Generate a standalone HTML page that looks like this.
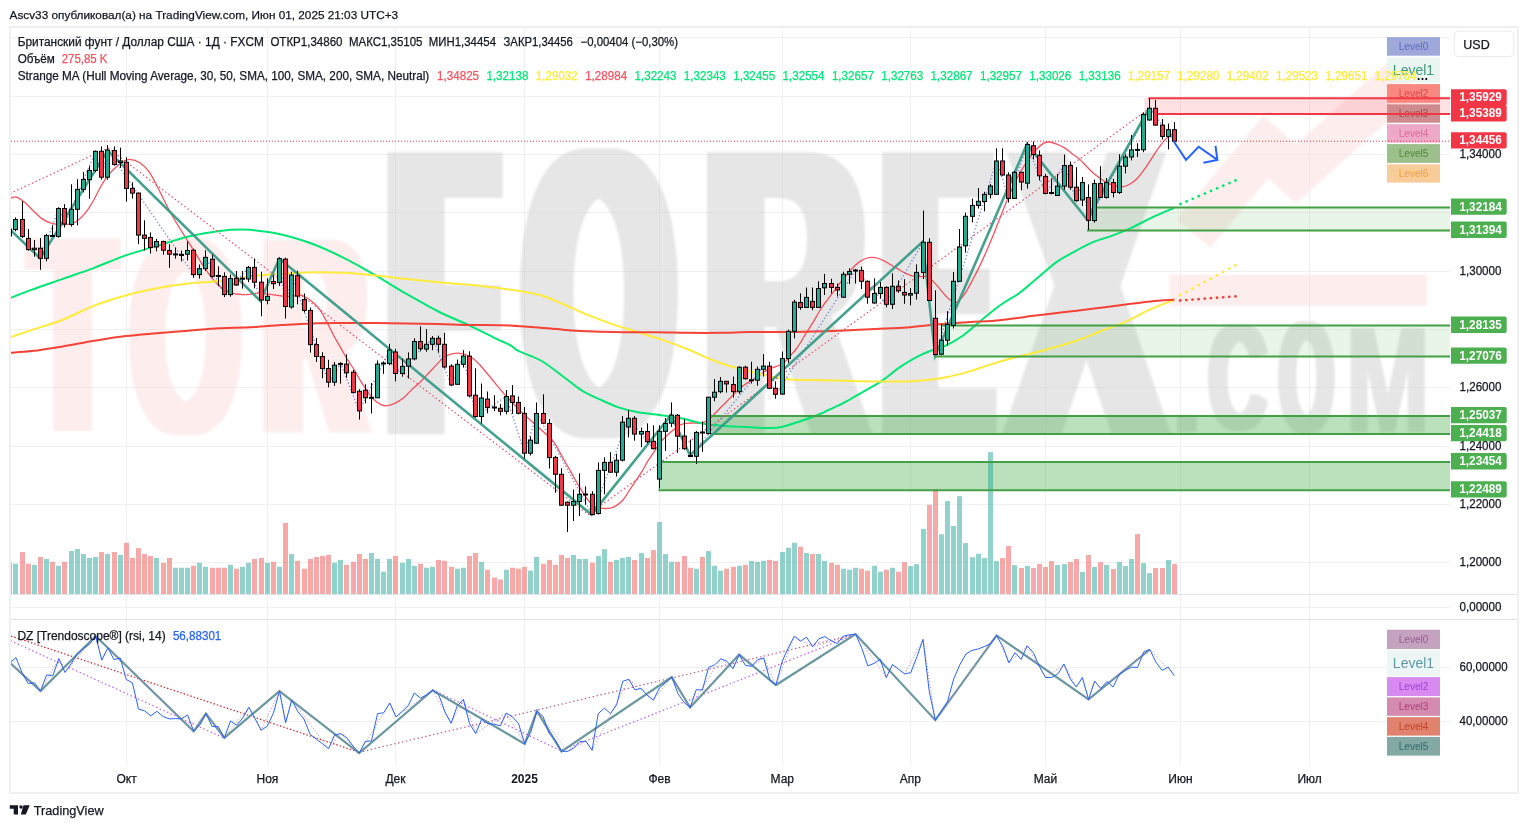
<!DOCTYPE html>
<html><head><meta charset="utf-8"><title>GBPUSD chart</title>
<style>
html,body{margin:0;padding:0;background:#fff}
body{width:1528px;height:828px;overflow:hidden}
svg{display:block}
text{font-family:"Liberation Sans", "DejaVu Sans", sans-serif}
</style></head><body>
<svg width="1528" height="828" viewBox="0 0 1528 828">
<defs><filter id="dil2_4" x="-30%" y="-5%" width="160%" height="110%"><feMorphology operator="dilate" radius="2.4 0"/><feGaussianBlur stdDeviation="1.2"/></filter><filter id="dil4_1" x="-30%" y="-5%" width="160%" height="110%"><feMorphology operator="dilate" radius="4.1 0"/><feGaussianBlur stdDeviation="1.2"/></filter><filter id="dil4_4" x="-30%" y="-5%" width="160%" height="110%"><feMorphology operator="dilate" radius="4.4 0"/><feGaussianBlur stdDeviation="1.2"/></filter><filter id="dil7_5" x="-30%" y="-5%" width="160%" height="110%"><feMorphology operator="dilate" radius="7.5 0"/><feGaussianBlur stdDeviation="1.2"/></filter><filter id="dil9_5" x="-30%" y="-5%" width="160%" height="110%"><feMorphology operator="dilate" radius="9.5 0"/><feGaussianBlur stdDeviation="1.2"/></filter><filter id="dil9_8" x="-30%" y="-5%" width="160%" height="110%"><feMorphology operator="dilate" radius="9.8 0"/><feGaussianBlur stdDeviation="1.2"/></filter><filter id="dil12_5" x="-30%" y="-5%" width="160%" height="110%"><feMorphology operator="dilate" radius="12.5 0"/><feGaussianBlur stdDeviation="1.2"/></filter><filter id="dil13" x="-30%" y="-5%" width="160%" height="110%"><feMorphology operator="dilate" radius="13 0"/><feGaussianBlur stdDeviation="1.2"/></filter><filter id="dil13_3" x="-30%" y="-5%" width="160%" height="110%"><feMorphology operator="dilate" radius="13.3 0"/><feGaussianBlur stdDeviation="1.2"/></filter><filter id="dil17" x="-30%" y="-5%" width="160%" height="110%"><feMorphology operator="dilate" radius="17 0"/><feGaussianBlur stdDeviation="1.2"/></filter><filter id="dil17_5" x="-30%" y="-5%" width="160%" height="110%"><feMorphology operator="dilate" radius="17.5 0"/><feGaussianBlur stdDeviation="1.2"/></filter><filter id="blur1" x="-10%" y="-10%" width="120%" height="120%"><feGaussianBlur stdDeviation="1.2"/></filter><clipPath id="cm"><rect x="11" y="28" width="1439" height="566"/></clipPath><clipPath id="cr"><rect x="11" y="620" width="1439" height="145"/></clipPath></defs>
<rect width="1528" height="828" fill="#fff"/>
<g stroke="#f0f0f1" stroke-width="1"><line x1="11" y1="37.5" x2="1450" y2="37.5"/><line x1="11" y1="96.5" x2="1450" y2="96.5"/><line x1="11" y1="154.5" x2="1450" y2="154.5"/><line x1="11" y1="212.5" x2="1450" y2="212.5"/><line x1="11" y1="271.5" x2="1450" y2="271.5"/><line x1="11" y1="329.5" x2="1450" y2="329.5"/><line x1="11" y1="387.5" x2="1450" y2="387.5"/><line x1="11" y1="446.5" x2="1450" y2="446.5"/><line x1="11" y1="504.5" x2="1450" y2="504.5"/><line x1="11" y1="562.5" x2="1450" y2="562.5"/><line x1="11" y1="607.5" x2="1450" y2="607.5"/><line x1="11" y1="667.5" x2="1450" y2="667.5"/><line x1="11" y1="721.5" x2="1450" y2="721.5"/><line x1="126.5" y1="28" x2="126.5" y2="594"/><line x1="126.5" y1="595" x2="126.5" y2="619"/><line x1="126.5" y1="620" x2="126.5" y2="765"/><line x1="267.5" y1="28" x2="267.5" y2="594"/><line x1="267.5" y1="595" x2="267.5" y2="619"/><line x1="267.5" y1="620" x2="267.5" y2="765"/><line x1="395.5" y1="28" x2="395.5" y2="594"/><line x1="395.5" y1="595" x2="395.5" y2="619"/><line x1="395.5" y1="620" x2="395.5" y2="765"/><line x1="524.5" y1="28" x2="524.5" y2="594"/><line x1="524.5" y1="595" x2="524.5" y2="619"/><line x1="524.5" y1="620" x2="524.5" y2="765"/><line x1="659.5" y1="28" x2="659.5" y2="594"/><line x1="659.5" y1="595" x2="659.5" y2="619"/><line x1="659.5" y1="620" x2="659.5" y2="765"/><line x1="782.5" y1="28" x2="782.5" y2="594"/><line x1="782.5" y1="595" x2="782.5" y2="619"/><line x1="782.5" y1="620" x2="782.5" y2="765"/><line x1="910.5" y1="28" x2="910.5" y2="594"/><line x1="910.5" y1="595" x2="910.5" y2="619"/><line x1="910.5" y1="620" x2="910.5" y2="765"/><line x1="1045.5" y1="28" x2="1045.5" y2="594"/><line x1="1045.5" y1="595" x2="1045.5" y2="619"/><line x1="1045.5" y1="620" x2="1045.5" y2="765"/><line x1="1180.5" y1="28" x2="1180.5" y2="594"/><line x1="1180.5" y1="595" x2="1180.5" y2="619"/><line x1="1180.5" y1="620" x2="1180.5" y2="765"/><line x1="1309.5" y1="28" x2="1309.5" y2="594"/><line x1="1309.5" y1="595" x2="1309.5" y2="619"/><line x1="1309.5" y1="620" x2="1309.5" y2="765"/></g>
<g clip-path="url(#cm)" opacity="0.5">
<g filter="url(#blur1)"><polyline points="1193.5,233.6 1266,147 1296,174 1405,76" fill="none" stroke="#fbdbdb" stroke-width="44" stroke-linejoin="miter" stroke-miterlimit="10"/>
<rect x="1169.4" y="274.9" width="257.7" height="31" fill="#fbdbdb"/></g>
<g filter="url(#dil9_8)"><text transform="matrix(0.13,0,0,0.28,32.82,431)" font-size="1000" font-weight="bold" fill="#fbdbdb">T</text></g>
<g filter="url(#dil7_5)"><text transform="matrix(0.14,0,0,0.28,131.28,432.68)" font-size="1000" font-weight="bold" fill="#fbdbdb">O</text></g>
<g filter="url(#dil9_5)"><text transform="matrix(0.14,0,0,0.28,263.8,432.5)" font-size="1000" font-weight="bold" fill="#fbdbdb">R</text></g>
<g filter="url(#dil17)"><text transform="matrix(0.16,0,0,0.41,393.8,434.2)" font-size="1000" font-weight="bold" fill="#cdcdcd">F</text></g>
<g filter="url(#dil13_3)"><text transform="matrix(0.19,0,0,0.41,525.12,434.41)" font-size="1000" font-weight="bold" fill="#cdcdcd">O</text></g>
<g filter="url(#dil12_5)"><text transform="matrix(0.22,0,0,0.41,705.15,434.2)" font-size="1000" font-weight="bold" fill="#cdcdcd">R</text></g>
<g filter="url(#dil17_5)"><text transform="matrix(0.14,0,0,0.41,890.74,434.2)" font-size="1000" font-weight="bold" fill="#cdcdcd">E</text></g>
<g filter="url(#dil13)"><text transform="matrix(0.22,0,0,0.41,1013.06,434.2)" font-size="1000" font-weight="bold" fill="#cdcdcd">X</text></g>
<g filter="url(#blur1)"><text transform="matrix(0.14,0,0,0.11,1167.49,431.5)" font-size="1000" font-weight="bold" fill="#cdcdcd">.</text></g>
<g filter="url(#dil4_4)"><text transform="matrix(0.08,0,0,0.15,1208.68,430.37)" font-size="1000" font-weight="bold" fill="#cdcdcd">C</text></g>
<g filter="url(#dil4_1)"><text transform="matrix(0.07,0,0,0.16,1279.33,432.43)" font-size="1000" font-weight="bold" fill="#cdcdcd">O</text></g>
<g filter="url(#dil2_4)"><text transform="matrix(0.1,0,0,0.15,1346.06,431.5)" font-size="1000" font-weight="bold" fill="#cdcdcd">M</text></g>
</g>
<g stroke="#e0e3eb" stroke-width="1"><line x1="11" y1="594.5" x2="1517" y2="594.5"/><line x1="11" y1="619.5" x2="1517" y2="619.5"/></g>
<g clip-path="url(#cm)">
<rect x="1087" y="207.46" width="363" height="23.04" fill="rgba(76,175,80,0.13)"/>
<rect x="933.8" y="325.55" width="516.2" height="30.88" fill="rgba(76,175,80,0.13)"/>
<rect x="710.4" y="415.9" width="739.6" height="18.05" fill="rgba(76,175,80,0.38)"/>
<rect x="658.6" y="462.06" width="791.4" height="28.14" fill="rgba(76,175,80,0.38)"/>
<rect x="1144.3" y="98.24" width="305.7" height="15.75" fill="rgba(242,54,69,0.15)"/>
<rect x="7" y="562.83" width="5" height="31.17" fill="rgba(38,166,154,0.5)"/><rect x="13" y="563.81" width="5" height="30.19" fill="rgba(38,166,154,0.5)"/><rect x="20" y="552.03" width="5" height="41.97" fill="rgba(239,83,80,0.5)"/><rect x="26" y="563.81" width="5" height="30.19" fill="rgba(239,83,80,0.5)"/><rect x="32" y="564.79" width="5" height="29.21" fill="rgba(38,166,154,0.5)"/><rect x="38" y="556.94" width="5" height="37.06" fill="rgba(239,83,80,0.5)"/><rect x="44" y="558.9" width="5" height="35.1" fill="rgba(38,166,154,0.5)"/><rect x="50" y="561.85" width="5" height="32.15" fill="rgba(239,83,80,0.5)"/><rect x="56" y="565.78" width="5" height="28.22" fill="rgba(38,166,154,0.5)"/><rect x="62" y="561.85" width="5" height="32.15" fill="rgba(239,83,80,0.5)"/><rect x="69" y="551.05" width="5" height="42.95" fill="rgba(38,166,154,0.5)"/><rect x="75" y="549.09" width="5" height="44.91" fill="rgba(38,166,154,0.5)"/><rect x="81" y="554" width="5" height="40" fill="rgba(38,166,154,0.5)"/><rect x="87" y="557.92" width="5" height="36.08" fill="rgba(38,166,154,0.5)"/><rect x="93" y="556.94" width="5" height="37.06" fill="rgba(38,166,154,0.5)"/><rect x="99" y="552.03" width="5" height="41.97" fill="rgba(239,83,80,0.5)"/><rect x="105" y="554" width="5" height="40" fill="rgba(38,166,154,0.5)"/><rect x="112" y="552.03" width="5" height="41.97" fill="rgba(239,83,80,0.5)"/><rect x="118" y="554.98" width="5" height="39.02" fill="rgba(38,166,154,0.5)"/><rect x="124" y="542.8" width="5" height="51.2" fill="rgba(239,83,80,0.5)"/><rect x="130" y="557.92" width="5" height="36.08" fill="rgba(239,83,80,0.5)"/><rect x="136" y="548.11" width="5" height="45.89" fill="rgba(239,83,80,0.5)"/><rect x="142" y="554" width="5" height="40" fill="rgba(239,83,80,0.5)"/><rect x="148" y="555.96" width="5" height="38.04" fill="rgba(239,83,80,0.5)"/><rect x="154" y="557.92" width="5" height="36.08" fill="rgba(38,166,154,0.5)"/><rect x="161" y="562.83" width="5" height="31.17" fill="rgba(239,83,80,0.5)"/><rect x="167" y="557.92" width="5" height="36.08" fill="rgba(239,83,80,0.5)"/><rect x="173" y="567.74" width="5" height="26.26" fill="rgba(38,166,154,0.5)"/><rect x="179" y="567.74" width="5" height="26.26" fill="rgba(38,166,154,0.5)"/><rect x="185" y="567.74" width="5" height="26.26" fill="rgba(38,166,154,0.5)"/><rect x="191" y="565.78" width="5" height="28.22" fill="rgba(239,83,80,0.5)"/><rect x="197" y="562.83" width="5" height="31.17" fill="rgba(38,166,154,0.5)"/><rect x="203" y="566.76" width="5" height="27.24" fill="rgba(38,166,154,0.5)"/><rect x="210" y="567.74" width="5" height="26.26" fill="rgba(239,83,80,0.5)"/><rect x="216" y="567.74" width="5" height="26.26" fill="rgba(239,83,80,0.5)"/><rect x="222" y="567.74" width="5" height="26.26" fill="rgba(239,83,80,0.5)"/><rect x="228" y="564.79" width="5" height="29.21" fill="rgba(38,166,154,0.5)"/><rect x="234" y="568.72" width="5" height="25.28" fill="rgba(239,83,80,0.5)"/><rect x="240" y="566.76" width="5" height="27.24" fill="rgba(38,166,154,0.5)"/><rect x="246" y="562.83" width="5" height="31.17" fill="rgba(38,166,154,0.5)"/><rect x="252" y="558.9" width="5" height="35.1" fill="rgba(239,83,80,0.5)"/><rect x="259" y="557.92" width="5" height="36.08" fill="rgba(239,83,80,0.5)"/><rect x="265" y="562.83" width="5" height="31.17" fill="rgba(38,166,154,0.5)"/><rect x="271" y="561.85" width="5" height="32.15" fill="rgba(239,83,80,0.5)"/><rect x="277" y="566.76" width="5" height="27.24" fill="rgba(38,166,154,0.5)"/><rect x="283" y="522.97" width="5" height="71.03" fill="rgba(239,83,80,0.5)"/><rect x="289" y="554" width="5" height="40" fill="rgba(38,166,154,0.5)"/><rect x="295" y="560.87" width="5" height="33.13" fill="rgba(239,83,80,0.5)"/><rect x="302" y="568.72" width="5" height="25.28" fill="rgba(239,83,80,0.5)"/><rect x="308" y="558.9" width="5" height="35.1" fill="rgba(239,83,80,0.5)"/><rect x="314" y="556.94" width="5" height="37.06" fill="rgba(239,83,80,0.5)"/><rect x="320" y="555.96" width="5" height="38.04" fill="rgba(239,83,80,0.5)"/><rect x="326" y="554.98" width="5" height="39.02" fill="rgba(239,83,80,0.5)"/><rect x="332" y="562.83" width="5" height="31.17" fill="rgba(38,166,154,0.5)"/><rect x="338" y="559.89" width="5" height="34.11" fill="rgba(38,166,154,0.5)"/><rect x="344" y="564.79" width="5" height="29.21" fill="rgba(239,83,80,0.5)"/><rect x="351" y="561.85" width="5" height="32.15" fill="rgba(239,83,80,0.5)"/><rect x="357" y="554" width="5" height="40" fill="rgba(239,83,80,0.5)"/><rect x="363" y="558.9" width="5" height="35.1" fill="rgba(239,83,80,0.5)"/><rect x="369" y="553.01" width="5" height="40.99" fill="rgba(38,166,154,0.5)"/><rect x="375" y="558.9" width="5" height="35.1" fill="rgba(38,166,154,0.5)"/><rect x="381" y="571.67" width="5" height="22.33" fill="rgba(38,166,154,0.5)"/><rect x="387" y="558.9" width="5" height="35.1" fill="rgba(38,166,154,0.5)"/><rect x="393" y="555.96" width="5" height="38.04" fill="rgba(239,83,80,0.5)"/><rect x="400" y="562.83" width="5" height="31.17" fill="rgba(38,166,154,0.5)"/><rect x="406" y="558.9" width="5" height="35.1" fill="rgba(38,166,154,0.5)"/><rect x="412" y="565.78" width="5" height="28.22" fill="rgba(38,166,154,0.5)"/><rect x="418" y="563.81" width="5" height="30.19" fill="rgba(239,83,80,0.5)"/><rect x="424" y="567.74" width="5" height="26.26" fill="rgba(38,166,154,0.5)"/><rect x="430" y="566.76" width="5" height="27.24" fill="rgba(38,166,154,0.5)"/><rect x="436" y="559.89" width="5" height="34.11" fill="rgba(239,83,80,0.5)"/><rect x="442" y="560.87" width="5" height="33.13" fill="rgba(239,83,80,0.5)"/><rect x="449" y="566.76" width="5" height="27.24" fill="rgba(239,83,80,0.5)"/><rect x="455" y="568.72" width="5" height="25.28" fill="rgba(38,166,154,0.5)"/><rect x="461" y="567.74" width="5" height="26.26" fill="rgba(38,166,154,0.5)"/><rect x="467" y="555.96" width="5" height="38.04" fill="rgba(239,83,80,0.5)"/><rect x="473" y="553.01" width="5" height="40.99" fill="rgba(239,83,80,0.5)"/><rect x="479" y="561.85" width="5" height="32.15" fill="rgba(38,166,154,0.5)"/><rect x="485" y="569.7" width="5" height="24.3" fill="rgba(239,83,80,0.5)"/><rect x="492" y="577.56" width="5" height="16.44" fill="rgba(239,83,80,0.5)"/><rect x="498" y="579.52" width="5" height="14.48" fill="rgba(239,83,80,0.5)"/><rect x="504" y="569.7" width="5" height="24.3" fill="rgba(38,166,154,0.5)"/><rect x="510" y="567.74" width="5" height="26.26" fill="rgba(239,83,80,0.5)"/><rect x="516" y="568.72" width="5" height="25.28" fill="rgba(239,83,80,0.5)"/><rect x="522" y="566.76" width="5" height="27.24" fill="rgba(239,83,80,0.5)"/><rect x="528" y="570.69" width="5" height="23.31" fill="rgba(38,166,154,0.5)"/><rect x="534" y="556.94" width="5" height="37.06" fill="rgba(38,166,154,0.5)"/><rect x="541" y="563.81" width="5" height="30.19" fill="rgba(239,83,80,0.5)"/><rect x="547" y="559.89" width="5" height="34.11" fill="rgba(239,83,80,0.5)"/><rect x="553" y="564.79" width="5" height="29.21" fill="rgba(239,83,80,0.5)"/><rect x="559" y="554.98" width="5" height="39.02" fill="rgba(239,83,80,0.5)"/><rect x="565" y="557.92" width="5" height="36.08" fill="rgba(239,83,80,0.5)"/><rect x="571" y="554.98" width="5" height="39.02" fill="rgba(38,166,154,0.5)"/><rect x="577" y="558.9" width="5" height="35.1" fill="rgba(38,166,154,0.5)"/><rect x="583" y="558.9" width="5" height="35.1" fill="rgba(38,166,154,0.5)"/><rect x="590" y="562.83" width="5" height="31.17" fill="rgba(239,83,80,0.5)"/><rect x="596" y="555.96" width="5" height="38.04" fill="rgba(38,166,154,0.5)"/><rect x="602" y="549.09" width="5" height="44.91" fill="rgba(38,166,154,0.5)"/><rect x="608" y="561.85" width="5" height="32.15" fill="rgba(239,83,80,0.5)"/><rect x="614" y="559.89" width="5" height="34.11" fill="rgba(38,166,154,0.5)"/><rect x="620" y="557.92" width="5" height="36.08" fill="rgba(38,166,154,0.5)"/><rect x="626" y="556.94" width="5" height="37.06" fill="rgba(38,166,154,0.5)"/><rect x="632" y="559.89" width="5" height="34.11" fill="rgba(239,83,80,0.5)"/><rect x="639" y="553.01" width="5" height="40.99" fill="rgba(38,166,154,0.5)"/><rect x="645" y="557.92" width="5" height="36.08" fill="rgba(239,83,80,0.5)"/><rect x="651" y="550.07" width="5" height="43.93" fill="rgba(239,83,80,0.5)"/><rect x="657" y="521.99" width="5" height="72.01" fill="rgba(38,166,154,0.5)"/><rect x="663" y="554" width="5" height="40" fill="rgba(38,166,154,0.5)"/><rect x="669" y="561.85" width="5" height="32.15" fill="rgba(38,166,154,0.5)"/><rect x="675" y="561.85" width="5" height="32.15" fill="rgba(239,83,80,0.5)"/><rect x="682" y="555.96" width="5" height="38.04" fill="rgba(239,83,80,0.5)"/><rect x="688" y="567.74" width="5" height="26.26" fill="rgba(239,83,80,0.5)"/><rect x="694" y="568.72" width="5" height="25.28" fill="rgba(38,166,154,0.5)"/><rect x="700" y="556.94" width="5" height="37.06" fill="rgba(239,83,80,0.5)"/><rect x="706" y="551.05" width="5" height="42.95" fill="rgba(38,166,154,0.5)"/><rect x="712" y="565.78" width="5" height="28.22" fill="rgba(38,166,154,0.5)"/><rect x="718" y="570.69" width="5" height="23.31" fill="rgba(38,166,154,0.5)"/><rect x="724" y="568.72" width="5" height="25.28" fill="rgba(239,83,80,0.5)"/><rect x="731" y="566.76" width="5" height="27.24" fill="rgba(239,83,80,0.5)"/><rect x="737" y="565.78" width="5" height="28.22" fill="rgba(38,166,154,0.5)"/><rect x="743" y="564.79" width="5" height="29.21" fill="rgba(239,83,80,0.5)"/><rect x="749" y="560.87" width="5" height="33.13" fill="rgba(38,166,154,0.5)"/><rect x="755" y="561.85" width="5" height="32.15" fill="rgba(38,166,154,0.5)"/><rect x="761" y="560.87" width="5" height="33.13" fill="rgba(38,166,154,0.5)"/><rect x="767" y="559.89" width="5" height="34.11" fill="rgba(239,83,80,0.5)"/><rect x="773" y="560.87" width="5" height="33.13" fill="rgba(239,83,80,0.5)"/><rect x="780" y="552.03" width="5" height="41.97" fill="rgba(38,166,154,0.5)"/><rect x="786" y="547.71" width="5" height="46.29" fill="rgba(38,166,154,0.5)"/><rect x="792" y="542.8" width="5" height="51.2" fill="rgba(38,166,154,0.5)"/><rect x="798" y="546.73" width="5" height="47.27" fill="rgba(239,83,80,0.5)"/><rect x="804" y="553.01" width="5" height="40.99" fill="rgba(38,166,154,0.5)"/><rect x="810" y="554" width="5" height="40" fill="rgba(239,83,80,0.5)"/><rect x="816" y="554" width="5" height="40" fill="rgba(38,166,154,0.5)"/><rect x="822" y="560.87" width="5" height="33.13" fill="rgba(38,166,154,0.5)"/><rect x="829" y="562.83" width="5" height="31.17" fill="rgba(239,83,80,0.5)"/><rect x="835" y="564.79" width="5" height="29.21" fill="rgba(239,83,80,0.5)"/><rect x="841" y="568.72" width="5" height="25.28" fill="rgba(38,166,154,0.5)"/><rect x="847" y="569.7" width="5" height="24.3" fill="rgba(38,166,154,0.5)"/><rect x="853" y="567.74" width="5" height="26.26" fill="rgba(38,166,154,0.5)"/><rect x="859" y="568.72" width="5" height="25.28" fill="rgba(239,83,80,0.5)"/><rect x="865" y="570.69" width="5" height="23.31" fill="rgba(239,83,80,0.5)"/><rect x="872" y="565.78" width="5" height="28.22" fill="rgba(38,166,154,0.5)"/><rect x="878" y="571.67" width="5" height="22.33" fill="rgba(38,166,154,0.5)"/><rect x="884" y="569.7" width="5" height="24.3" fill="rgba(239,83,80,0.5)"/><rect x="890" y="567.74" width="5" height="26.26" fill="rgba(38,166,154,0.5)"/><rect x="896" y="571.67" width="5" height="22.33" fill="rgba(239,83,80,0.5)"/><rect x="902" y="562.13" width="5" height="31.87" fill="rgba(239,83,80,0.5)"/><rect x="908" y="566.06" width="5" height="27.94" fill="rgba(38,166,154,0.5)"/><rect x="914" y="564.09" width="5" height="29.91" fill="rgba(38,166,154,0.5)"/><rect x="921" y="528.95" width="5" height="65.05" fill="rgba(38,166,154,0.5)"/><rect x="927" y="504.79" width="5" height="89.21" fill="rgba(239,83,80,0.5)"/><rect x="933" y="489.09" width="5" height="104.91" fill="rgba(239,83,80,0.5)"/><rect x="939" y="534.25" width="5" height="59.75" fill="rgba(38,166,154,0.5)"/><rect x="945" y="501.06" width="5" height="92.94" fill="rgba(38,166,154,0.5)"/><rect x="951" y="526" width="5" height="68" fill="rgba(38,166,154,0.5)"/><rect x="957" y="496.16" width="5" height="97.84" fill="rgba(38,166,154,0.5)"/><rect x="963" y="543.08" width="5" height="50.92" fill="rgba(38,166,154,0.5)"/><rect x="970" y="557.22" width="5" height="36.78" fill="rgba(38,166,154,0.5)"/><rect x="976" y="553.88" width="5" height="40.12" fill="rgba(38,166,154,0.5)"/><rect x="982" y="558.01" width="5" height="35.99" fill="rgba(38,166,154,0.5)"/><rect x="988" y="452.17" width="5" height="141.83" fill="rgba(38,166,154,0.5)"/><rect x="994" y="561.15" width="5" height="32.85" fill="rgba(38,166,154,0.5)"/><rect x="1000" y="558.01" width="5" height="35.99" fill="rgba(239,83,80,0.5)"/><rect x="1006" y="546.03" width="5" height="47.97" fill="rgba(239,83,80,0.5)"/><rect x="1012" y="565.07" width="5" height="28.93" fill="rgba(38,166,154,0.5)"/><rect x="1019" y="568.02" width="5" height="25.98" fill="rgba(239,83,80,0.5)"/><rect x="1025" y="566.06" width="5" height="27.94" fill="rgba(38,166,154,0.5)"/><rect x="1031" y="568.02" width="5" height="25.98" fill="rgba(239,83,80,0.5)"/><rect x="1037" y="564.09" width="5" height="29.91" fill="rgba(239,83,80,0.5)"/><rect x="1043" y="567.04" width="5" height="26.96" fill="rgba(239,83,80,0.5)"/><rect x="1049" y="561.15" width="5" height="32.85" fill="rgba(239,83,80,0.5)"/><rect x="1055" y="565.07" width="5" height="28.93" fill="rgba(38,166,154,0.5)"/><rect x="1062" y="564.09" width="5" height="29.91" fill="rgba(38,166,154,0.5)"/><rect x="1068" y="562.13" width="5" height="31.87" fill="rgba(239,83,80,0.5)"/><rect x="1074" y="558.99" width="5" height="35.01" fill="rgba(239,83,80,0.5)"/><rect x="1080" y="571.95" width="5" height="22.05" fill="rgba(38,166,154,0.5)"/><rect x="1086" y="555.06" width="5" height="38.94" fill="rgba(239,83,80,0.5)"/><rect x="1092" y="567.04" width="5" height="26.96" fill="rgba(38,166,154,0.5)"/><rect x="1098" y="562.13" width="5" height="31.87" fill="rgba(239,83,80,0.5)"/><rect x="1104" y="565.07" width="5" height="28.93" fill="rgba(38,166,154,0.5)"/><rect x="1111" y="569" width="5" height="25" fill="rgba(239,83,80,0.5)"/><rect x="1117" y="562.13" width="5" height="31.87" fill="rgba(38,166,154,0.5)"/><rect x="1123" y="566.06" width="5" height="27.94" fill="rgba(38,166,154,0.5)"/><rect x="1129" y="558.99" width="5" height="35.01" fill="rgba(38,166,154,0.5)"/><rect x="1135" y="534.05" width="5" height="59.95" fill="rgba(239,83,80,0.5)"/><rect x="1141" y="563.11" width="5" height="30.89" fill="rgba(38,166,154,0.5)"/><rect x="1147" y="573.12" width="5" height="20.88" fill="rgba(38,166,154,0.5)"/><rect x="1153" y="568.02" width="5" height="25.98" fill="rgba(239,83,80,0.5)"/><rect x="1160" y="568.02" width="5" height="25.98" fill="rgba(239,83,80,0.5)"/><rect x="1166" y="559.97" width="5" height="34.03" fill="rgba(38,166,154,0.5)"/><rect x="1172" y="564.09" width="5" height="29.91" fill="rgba(239,83,80,0.5)"/>
<path d="M10.5,198.3C11.5,198.1 14.1,196.38 16.5,197.1C18.9,197.82 22.08,200.28 24.9,202.6C27.72,204.92 30.58,208.33 33.4,211C36.22,213.67 38.98,216.63 41.8,218.6C44.62,220.57 47.48,221.82 50.3,222.8C53.12,223.78 56.17,224.22 58.7,224.5C61.23,224.78 63.25,224.63 65.5,224.5C67.75,224.37 69.95,224.53 72.2,223.7C74.45,222.87 77.02,221.05 79,219.5C80.98,217.95 82.4,216.38 84.1,214.4C85.8,212.42 87.52,210.13 89.2,207.6C90.88,205.07 92.52,202.27 94.2,199.2C95.88,196.13 97.6,192.3 99.3,189.2C101,186.1 102.72,183.17 104.4,180.6C106.08,178.03 107.43,176.07 109.4,173.8C111.37,171.53 113.93,168.97 116.2,167C118.47,165.03 120.75,163.27 123,162C125.25,160.73 126.88,159.28 129.7,159.4C132.52,159.52 136.68,160.65 139.9,162.7C143.12,164.75 145.98,167.48 149,171.7C152.02,175.92 154.98,182.25 158,188C161.02,193.75 164.07,200.45 167.1,206.2C170.13,211.95 173.18,217.37 176.2,222.5C179.22,227.63 182.18,232.18 185.2,237C188.22,241.82 191.28,246.58 194.3,251.4C197.32,256.22 200.28,261.37 203.3,265.9C206.32,270.43 209.38,274.97 212.4,278.6C215.42,282.23 218.08,285.28 221.4,287.7C224.72,290.12 228.07,291.95 232.3,293.1C236.53,294.25 242.57,294.6 246.8,294.6C251.03,294.6 254.03,293.17 257.7,293.1C261.37,293.03 263.8,293.63 268.8,294.2C273.8,294.77 282.5,296.33 287.7,296.5C292.9,296.67 296.82,295 300,295.2C303.18,295.4 304.55,296.43 306.8,297.7C309.05,298.97 311.25,300.68 313.5,302.8C315.75,304.92 318.05,307.15 320.3,310.4C322.55,313.65 324.75,318.07 327,322.3C329.25,326.53 331.53,331.58 333.8,335.8C336.07,340.02 338.35,343.67 340.6,347.6C342.85,351.53 345.05,355.73 347.3,359.4C349.55,363.07 351.85,365.93 354.1,369.6C356.35,373.27 358.55,377.75 360.8,381.4C363.05,385.05 365.33,388.4 367.6,391.5C369.87,394.6 372.15,397.8 374.4,400C376.65,402.2 379.13,403.72 381.1,404.7C383.07,405.68 383.95,406.12 386.2,405.9C388.45,405.68 391.78,404.67 394.6,403.4C397.42,402.13 400.28,400.55 403.1,398.3C405.92,396.05 408.68,392.58 411.5,389.9C414.32,387.22 416.57,385.6 420,382.2C423.43,378.8 427.98,373.7 432.1,369.5C436.22,365.3 440.52,359.72 444.7,357C448.88,354.28 453.55,353.53 457.2,353.2C460.85,352.87 463.97,354.12 466.6,355C469.23,355.88 470.77,356.83 473,358.5C475.23,360.17 477.02,361.75 480,365C482.98,368.25 487.28,373.65 490.9,378C494.52,382.35 498.08,386.93 501.7,391.1C505.32,395.27 508.97,399.2 512.6,403C516.23,406.8 519.88,410.45 523.5,413.9C527.12,417.35 530.68,420.43 534.3,423.7C537.92,426.97 541.93,430.42 545.2,433.5C548.47,436.58 551,438.22 553.9,442.2C556.8,446.18 559.7,452.33 562.6,457.4C565.5,462.47 568.4,467.53 571.3,472.6C574.2,477.67 577.1,483.08 580,487.8C582.9,492.52 586.25,497.78 588.7,500.9C591.15,504.02 592.38,505.27 594.7,506.5C597.02,507.73 599.98,508.03 602.6,508.3C605.22,508.57 608.05,508.58 610.4,508.1C612.75,507.62 614.6,506.75 616.7,505.4C618.8,504.05 620.9,502.48 623,500C625.1,497.52 627.22,493.65 629.3,490.5C631.38,487.35 633.42,484.23 635.5,481.1C637.58,477.97 639.7,475.1 641.8,471.7C643.9,468.3 646,464.1 648.1,460.7C650.2,457.3 652.3,454.45 654.4,451.3C656.5,448.15 658.6,444.43 660.7,441.8C662.8,439.17 664.92,437.47 667,435.5C669.08,433.53 671.12,431.7 673.2,430C675.28,428.3 677.4,426.42 679.5,425.3C681.6,424.18 683.43,423.68 685.8,423.3C688.17,422.92 691.33,423.02 693.7,423C696.07,422.98 697.87,423.53 700,423.2C702.13,422.87 704.33,422.28 706.5,421C708.67,419.72 710.47,417.92 713,415.5C715.53,413.08 718.8,409.45 721.7,406.5C724.6,403.55 727.5,400.7 730.4,397.8C733.3,394.9 736.2,391.63 739.1,389.1C742,386.57 744.9,384.4 747.8,382.6C750.7,380.8 754.47,379.57 756.5,378.3C758.53,377.03 758.45,376.27 760,375C761.55,373.73 763.75,371.9 765.8,370.7C767.85,369.5 770.13,368.63 772.3,367.8C774.47,366.97 776.75,366.67 778.8,365.7C780.85,364.73 782.53,363.82 784.6,362C786.67,360.18 789.27,356.97 791.2,354.8C793.13,352.63 794.63,351.05 796.2,349C797.77,346.95 799.15,344.8 800.6,342.5C802.05,340.2 803.33,337.75 804.9,335.2C806.47,332.65 808.55,329.5 810,327.2C811.45,324.9 811.8,324.43 813.6,321.4C815.4,318.37 818.57,312.52 820.8,309C823.03,305.48 824.67,303.45 827,300.3C829.33,297.15 832.63,293 834.8,290.1C836.97,287.2 838.12,285.3 840,282.9C841.88,280.5 844,278.18 846.1,275.7C848.2,273.22 850.43,270.27 852.6,268C854.77,265.73 856.92,263.68 859.1,262.1C861.28,260.52 863.52,259.28 865.7,258.5C867.88,257.72 870.03,257.4 872.2,257.4C874.37,257.4 876.53,257.82 878.7,258.5C880.87,259.18 883.03,260.37 885.2,261.5C887.37,262.63 889.52,264.03 891.7,265.3C893.88,266.57 896.12,267.83 898.3,269.1C900.48,270.37 902.63,271.8 904.8,272.9C906.97,274 909.13,275.07 911.3,275.7C913.47,276.33 915.63,276.58 917.8,276.7C919.97,276.82 922.48,276.32 924.3,276.4C926.12,276.48 927.25,276.42 928.7,277.2C930.15,277.98 931.18,279.18 933,281.1C934.82,283.02 937.42,286.17 939.6,288.7C941.78,291.23 944.3,294.4 946.1,296.3C947.9,298.2 948.7,299.1 950.4,300.1C952.1,301.1 954.05,303.12 956.3,302.3C958.55,301.48 961.18,298.92 963.9,295.2C966.62,291.48 969.7,285.43 972.6,280C975.5,274.57 978.4,268.77 981.3,262.6C984.2,256.43 987.1,249.88 990,243C992.9,236.12 995.8,228.53 998.7,221.3C1001.6,214.07 1004.5,206.48 1007.4,199.6C1010.3,192.72 1013.2,185.8 1016.1,180C1019,174.2 1021.9,169.33 1024.8,164.8C1027.7,160.27 1030.6,156.25 1033.5,152.8C1036.4,149.35 1039.67,145.9 1042.2,144.1C1044.73,142.3 1046.2,141.97 1048.7,142C1051.2,142.03 1054.57,143.32 1057.2,144.3C1059.83,145.28 1062.08,146.38 1064.5,147.9C1066.92,149.42 1069.28,151.58 1071.7,153.4C1074.12,155.22 1076.58,156.7 1079,158.8C1081.42,160.9 1083.78,163.58 1086.2,166C1088.62,168.42 1091.08,171.18 1093.5,173.3C1095.92,175.42 1098.3,177.05 1100.7,178.7C1103.1,180.35 1105.48,181.98 1107.9,183.2C1110.32,184.42 1112.78,185.38 1115.2,186C1117.62,186.62 1119.98,187.2 1122.4,186.9C1124.82,186.6 1127.28,185.57 1129.7,184.2C1132.12,182.83 1134.48,181.12 1136.9,178.7C1139.32,176.28 1141.78,173.02 1144.2,169.7C1146.62,166.38 1149,162.43 1151.4,158.8C1153.8,155.17 1156.18,151.22 1158.6,147.9C1161.02,144.58 1163.48,141.3 1165.9,138.9C1168.32,136.5 1171.9,134.4 1173.1,133.5" fill="none" stroke="#f23645" stroke-width="1.3" opacity="0.85"/>
<path d="M10,298.1C10.17,298.03 7.43,299.07 11,297.7C14.57,296.33 22.77,293.03 31.4,289.9C40.03,286.77 52.33,282.57 62.8,278.9C73.27,275.23 83.73,271.82 94.2,267.9C104.67,263.98 115.13,259.07 125.6,255.4C136.07,251.73 146.53,249.05 157,245.9C167.47,242.75 177.93,239 188.4,236.5C198.87,234 210.9,232.05 219.8,230.9C228.7,229.75 235.1,229.6 241.8,229.6C248.5,229.6 253.4,230.08 260,230.9C266.6,231.72 272.6,232.32 281.4,234.5C290.2,236.68 302.33,240.07 312.8,244C323.27,247.93 333.73,252.87 344.2,258.1C354.67,263.33 365.13,269.38 375.6,275.4C386.07,281.42 396.53,288.18 407,294.2C417.47,300.22 427.93,306.27 438.4,311.5C448.87,316.73 460.38,321.17 469.8,325.6C479.22,330.03 488.2,334.87 494.9,338.1C501.6,341.33 506.02,342.83 510,345C513.98,347.17 513.67,348.52 518.8,351.1C523.93,353.68 533.47,356.32 540.8,360.5C548.13,364.68 556,371.23 562.8,376.2C569.6,381.17 575.32,386.38 581.6,390.3C587.88,394.22 594.22,396.82 600.5,399.7C606.78,402.58 613.03,405.5 619.3,407.6C625.57,409.7 630.77,411 638.1,412.3C645.43,413.6 655.97,414.35 663.3,415.4C670.63,416.45 675.4,417.22 682.1,418.6C688.8,419.98 696.32,422.48 703.5,423.7C710.68,424.92 717.95,425.35 725.2,425.9C732.45,426.45 739.75,426.65 747,427C754.25,427.35 762.92,428 768.7,428C774.48,428 777.35,427.83 781.7,427C786.05,426.17 790.45,424.38 794.8,423C799.15,421.62 803.6,420.2 807.8,418.7C812,417.2 816.55,415.45 820,414C823.45,412.55 824.47,411.88 828.5,410C832.53,408.12 838.45,405.73 844.2,402.7C849.95,399.67 856.72,395.45 863,391.8C869.28,388.15 875.62,385 881.9,380.8C888.18,376.6 894.43,370.78 900.7,366.6C906.97,362.42 914.27,358.42 919.5,355.7C924.73,352.98 927.9,351.88 932.1,350.3C936.3,348.72 939.47,348.72 944.7,346.2C949.93,343.68 957.23,339.65 963.5,335.2C969.77,330.75 976.02,324.62 982.3,319.5C988.58,314.38 995.12,308.83 1001.2,304.5C1007.28,300.17 1012.72,297.95 1018.8,293.5C1024.88,289.05 1031.42,283.03 1037.7,277.8C1043.98,272.57 1050.22,266.55 1056.5,262.1C1062.78,257.65 1069.12,254.5 1075.4,251.1C1081.68,247.7 1087.93,244.32 1094.2,241.7C1100.47,239.08 1106.72,237.75 1113,235.4C1119.28,233.05 1125.62,230.48 1131.9,227.6C1138.18,224.72 1143.63,221.4 1150.7,218.1C1157.77,214.8 1170.37,209.52 1174.3,207.8" fill="none" stroke="#00e676" stroke-width="2"/>
<path d="M10,337.3C10.17,337.25 7.43,338.2 11,337C14.57,335.8 22.77,332.98 31.4,330.1C40.03,327.22 52.33,323.78 62.8,319.7C73.27,315.62 83.73,309.63 94.2,305.6C104.67,301.57 115.13,298.38 125.6,295.5C136.07,292.62 146.53,290.28 157,288.3C167.47,286.32 177.93,284.8 188.4,283.6C198.87,282.4 209.53,282.32 219.8,281.1C230.07,279.88 239.73,277.52 250,276.3C260.27,275.08 270.93,274.48 281.4,273.8C291.87,273.12 302.33,272.37 312.8,272.2C323.27,272.03 333.73,272.27 344.2,272.8C354.67,273.33 365.13,274.35 375.6,275.4C386.07,276.45 396.53,277.95 407,279.1C417.47,280.25 427.93,281.35 438.4,282.3C448.87,283.25 459.53,283.8 469.8,284.8C480.07,285.8 491.83,287.3 500,288.3C508.17,289.3 512,289.65 518.8,290.8C525.6,291.95 533.47,293 540.8,295.2C548.13,297.4 554.95,300.72 562.8,304C570.65,307.28 579.53,311.5 587.9,314.9C596.27,318.3 604.63,321.52 613,324.4C621.37,327.28 629.72,329.58 638.1,332.2C646.48,334.82 654.92,337.22 663.3,340.1C671.68,342.98 680.03,346.1 688.4,349.5C696.77,352.9 706.18,357.62 713.5,360.5C720.82,363.38 726.02,364.97 732.3,366.8C738.58,368.63 745.12,369.95 751.2,371.5C757.28,373.05 762.72,374.82 768.8,376.1C774.88,377.38 780.37,378.53 787.7,379.2C795.03,379.87 803.38,379.83 812.8,380.1C822.22,380.37 833.73,380.58 844.2,380.8C854.67,381.02 865.13,381.3 875.6,381.4C886.07,381.5 898.63,381.62 907,381.4C915.37,381.18 919.52,380.73 925.8,380.1C932.08,379.47 937.37,379.05 944.7,377.6C952.03,376.15 962.48,373.48 969.8,371.4C977.12,369.32 981.9,367.2 988.6,365.1C995.3,363 1000.6,361.32 1010,358.8C1019.4,356.28 1033.58,353.13 1045,350C1056.42,346.87 1069.25,343.13 1078.5,340C1087.75,336.87 1092.65,334.23 1100.5,331.2C1108.35,328.17 1117.23,325.47 1125.6,321.8C1133.97,318.13 1142.58,312.87 1150.7,309.2C1158.82,305.53 1170.37,301.37 1174.3,299.8" fill="none" stroke="#ffeb3b" stroke-width="2"/>
<path d="M10,352.8C10.17,352.78 7.43,352.98 11,352.7C14.57,352.42 22.77,352.15 31.4,351.1C40.03,350.05 52.33,348.12 62.8,346.4C73.27,344.68 83.73,342.53 94.2,340.8C104.67,339.07 115.13,337.27 125.6,336C136.07,334.73 146.53,334.08 157,333.2C167.47,332.32 177.93,331.53 188.4,330.7C198.87,329.87 209.53,328.78 219.8,328.2C230.07,327.62 239.73,327.73 250,327.2C260.27,326.67 270.93,325.63 281.4,325C291.87,324.37 302.33,323.72 312.8,323.4C323.27,323.08 333.73,323.15 344.2,323.1C354.67,323.05 365.13,323.05 375.6,323.1C386.07,323.15 396.53,323.25 407,323.4C417.47,323.55 427.93,323.73 438.4,324C448.87,324.27 459.53,324.78 469.8,325C480.07,325.22 489.73,324.98 500,325.3C510.27,325.62 520.93,326.17 531.4,326.9C541.87,327.63 552.33,328.92 562.8,329.7C573.27,330.48 583.73,331.18 594.2,331.6C604.67,332.02 615.13,332.1 625.6,332.2C636.07,332.3 646.53,332.1 657,332.2C667.47,332.3 677.93,332.7 688.4,332.8C698.87,332.9 709.53,332.92 719.8,332.8C730.07,332.68 739.73,332.22 750,332.1C760.27,331.98 770.93,332.2 781.4,332.1C791.87,332 802.33,331.77 812.8,331.5C823.27,331.23 833.73,330.92 844.2,330.5C854.67,330.08 865.13,329.52 875.6,329C886.07,328.48 896.53,328.18 907,327.4C917.47,326.62 927.93,325.18 938.4,324.3C948.87,323.42 959.53,322.78 969.8,322.1C980.07,321.42 989.73,321.2 1000,320.2C1010.27,319.2 1020.93,317.42 1031.4,316.1C1041.87,314.78 1052.33,313.55 1062.8,312.3C1073.27,311.05 1083.73,309.9 1094.2,308.6C1104.67,307.3 1116.18,305.7 1125.6,304.5C1135.02,303.3 1142.58,302.18 1150.7,301.4C1158.82,300.62 1170.37,300.07 1174.3,299.8" fill="none" stroke="#f44336" stroke-width="2"/>
<rect x="1387" y="37.1" width="53" height="18.6" fill="#9fa8da"/>
<text x="1413.5" y="50" font-size="10" fill="#5c6bc0" text-anchor="middle">Level0</text>
<rect x="1387" y="57.4" width="53" height="25.1" fill="#eaf5f1"/>
<text x="1413.5" y="74.99" font-size="14" fill="#3a9b7a" text-anchor="middle">Level1</text>
<rect x="1387" y="84.1" width="53" height="18.7" fill="#f88880"/>
<text x="1413.5" y="97.05" font-size="10" fill="#e04848" text-anchor="middle">Level2</text>
<rect x="1387" y="104.4" width="53" height="18.3" fill="#cf8a8e"/>
<text x="1413.5" y="117.15" font-size="10" fill="#a04850" text-anchor="middle">Level3</text>
<rect x="1387" y="124.2" width="53" height="18.4" fill="#eea8c8"/>
<text x="1413.5" y="137" font-size="10" fill="#e06a98" text-anchor="middle">Level4</text>
<rect x="1387" y="144.1" width="53" height="18.8" fill="#9cbf8c"/>
<text x="1413.5" y="157.1" font-size="10" fill="#4f8a3e" text-anchor="middle">Level5</text>
<rect x="1387" y="164.4" width="53" height="18.2" fill="#f8cc98"/>
<text x="1413.5" y="177.1" font-size="10" fill="#f0a040" text-anchor="middle">Level6</text>
<line x1="1096" y1="207.46" x2="1450" y2="207.46" stroke="#43a047" stroke-width="2"/>
<line x1="1087" y1="230.5" x2="1450" y2="230.5" stroke="#43a047" stroke-width="2"/>
<line x1="941" y1="325.55" x2="1450" y2="325.55" stroke="#43a047" stroke-width="2"/>
<line x1="933.8" y1="356.43" x2="1450" y2="356.43" stroke="#43a047" stroke-width="2"/>
<line x1="710.4" y1="415.9" x2="1450" y2="415.9" stroke="#43a047" stroke-width="2"/>
<line x1="710.4" y1="433.95" x2="1450" y2="433.95" stroke="#43a047" stroke-width="2"/>
<line x1="658.6" y1="462.06" x2="1450" y2="462.06" stroke="#43a047" stroke-width="2"/>
<line x1="658.6" y1="490.21" x2="1450" y2="490.21" stroke="#43a047" stroke-width="2"/>
<line x1="1148.4" y1="98.24" x2="1450" y2="98.24" stroke="#f23645" stroke-width="2"/>
<line x1="1157" y1="113.99" x2="1450" y2="113.99" stroke="#f23645" stroke-width="2"/>
<polyline points="9.84,229 40.48,258.3 58.87,208.5 65,224 95.64,151.3 101.77,177.2 107.9,150.1 193.7,274.6 205.96,257.4 224.35,294.6 248.86,267.4 261.12,300 279.51,258.7 285.64,306.5 291.77,275 328.54,382.2 340.8,363.6 359.18,410.9 389.83,350 395.96,373.5 432.73,338.3 451.12,385 463.37,356.1 475.63,416.5 506.28,396.5 524.66,453.2 536.92,413.4 592.08,514.6 628.85,418.3 653.37,448.7 671.76,415.1 690.14,456.3 763.69,366.1 775.95,394.3 855.62,270 886.27,304.3 923.04,242.3 935.3,354.5 996.59,161 1008.85,198.4 1027.23,144.6 1045.62,193.5 1064.01,165.6 1076.26,200.6 1082.39,182.6 1088.52,220.3 1149.81,108.3 1174.33,141.2" fill="none" stroke="#5a6fd6" stroke-width="1.4" stroke-dasharray="1.3 2.2" opacity="0.8"/>
<circle cx="1180.5" cy="204" r="1.4" fill="#00e676"/><circle cx="1186.61" cy="201.39" r="1.4" fill="#00e676"/><circle cx="1192.72" cy="198.78" r="1.4" fill="#00e676"/><circle cx="1198.83" cy="196.17" r="1.4" fill="#00e676"/><circle cx="1204.94" cy="193.56" r="1.4" fill="#00e676"/><circle cx="1211.06" cy="190.94" r="1.4" fill="#00e676"/><circle cx="1217.17" cy="188.33" r="1.4" fill="#00e676"/><circle cx="1223.28" cy="185.72" r="1.4" fill="#00e676"/><circle cx="1229.39" cy="183.11" r="1.4" fill="#00e676"/><circle cx="1235.5" cy="180.5" r="1.4" fill="#00e676"/>
<circle cx="1180.2" cy="295.2" r="1.4" fill="#ffeb3b"/><circle cx="1186.33" cy="291.89" r="1.4" fill="#ffeb3b"/><circle cx="1192.47" cy="288.58" r="1.4" fill="#ffeb3b"/><circle cx="1198.6" cy="285.27" r="1.4" fill="#ffeb3b"/><circle cx="1204.73" cy="281.96" r="1.4" fill="#ffeb3b"/><circle cx="1210.87" cy="278.64" r="1.4" fill="#ffeb3b"/><circle cx="1217" cy="275.33" r="1.4" fill="#ffeb3b"/><circle cx="1223.13" cy="272.02" r="1.4" fill="#ffeb3b"/><circle cx="1229.27" cy="268.71" r="1.4" fill="#ffeb3b"/><circle cx="1235.4" cy="265.4" r="1.4" fill="#ffeb3b"/>
<circle cx="1180.2" cy="300.5" r="1.4" fill="#f44336"/><circle cx="1186.33" cy="300.04" r="1.4" fill="#f44336"/><circle cx="1192.47" cy="299.59" r="1.4" fill="#f44336"/><circle cx="1198.6" cy="299.13" r="1.4" fill="#f44336"/><circle cx="1204.73" cy="298.68" r="1.4" fill="#f44336"/><circle cx="1210.87" cy="298.22" r="1.4" fill="#f44336"/><circle cx="1217" cy="297.77" r="1.4" fill="#f44336"/><circle cx="1223.13" cy="297.31" r="1.4" fill="#f44336"/><circle cx="1229.27" cy="296.86" r="1.4" fill="#f44336"/><circle cx="1235.4" cy="296.4" r="1.4" fill="#f44336"/>
<polyline points="10,193.5 108,148 588.5,514.5 1148.7,109" fill="none" stroke="#e0506a" stroke-width="1.2" stroke-dasharray="1.5 2.5"/>
<line x1="11" y1="141.2" x2="1450" y2="141.2" stroke="#f23645" stroke-width="1" stroke-dasharray="1 2"/>
<polyline points="10,229.6 40.1,258.3 107.7,150.5 260.4,301 279.3,258.7 591.5,514.6 671.1,415 690,455.3 922.7,241.7 935.2,355.7 1027,144.1 1087.1,219.5 1148.7,109" fill="none" stroke="#3a9c88" stroke-width="2.6" stroke-linejoin="miter" opacity="0.95"/>
<g stroke="#000" stroke-width="1"><line x1="9.5" y1="226" x2="9.5" y2="238"/><line x1="15.5" y1="217.4" x2="15.5" y2="231.3"/><line x1="22.5" y1="201.2" x2="22.5" y2="238"/><line x1="28.5" y1="229.1" x2="28.5" y2="250.7"/><line x1="34.5" y1="240" x2="34.5" y2="256.7"/><line x1="40.5" y1="238" x2="40.5" y2="269.8"/><line x1="46.5" y1="233.8" x2="46.5" y2="261.4"/><line x1="52.5" y1="225.4" x2="52.5" y2="236.5"/><line x1="58.5" y1="207.3" x2="58.5" y2="237.7"/><line x1="64.5" y1="204.2" x2="64.5" y2="227.6"/><line x1="71.5" y1="184.3" x2="71.5" y2="226.6"/><line x1="77.5" y1="179.2" x2="77.5" y2="225.4"/><line x1="83.5" y1="172.1" x2="83.5" y2="192.4"/><line x1="89.5" y1="166.2" x2="89.5" y2="198.8"/><line x1="95.5" y1="150.5" x2="95.5" y2="172.1"/><line x1="101.5" y1="146.4" x2="101.5" y2="179.7"/><line x1="107.5" y1="145.1" x2="107.5" y2="179.7"/><line x1="114.5" y1="146.4" x2="114.5" y2="165.7"/><line x1="120.5" y1="147.6" x2="120.5" y2="167.9"/><line x1="126.5" y1="157.2" x2="126.5" y2="201.6"/><line x1="132.5" y1="182.2" x2="132.5" y2="198.6"/><line x1="138.5" y1="192.6" x2="138.5" y2="244.2"/><line x1="144.5" y1="220.3" x2="144.5" y2="250.5"/><line x1="150.5" y1="232.4" x2="150.5" y2="253.6"/><line x1="156.5" y1="238.8" x2="156.5" y2="251.4"/><line x1="163.5" y1="240.6" x2="163.5" y2="254.7"/><line x1="169.5" y1="244.2" x2="169.5" y2="267.8"/><line x1="175.5" y1="247.5" x2="175.5" y2="258.7"/><line x1="181.5" y1="250.5" x2="181.5" y2="261.4"/><line x1="187.5" y1="241.5" x2="187.5" y2="260.5"/><line x1="193.5" y1="248.7" x2="193.5" y2="277.7"/><line x1="199.5" y1="264.5" x2="199.5" y2="278.6"/><line x1="205.5" y1="250.2" x2="205.5" y2="271"/><line x1="212.5" y1="254.7" x2="212.5" y2="277.7"/><line x1="218.5" y1="266.3" x2="218.5" y2="286.2"/><line x1="224.5" y1="272.3" x2="224.5" y2="297.1"/><line x1="230.5" y1="274.6" x2="230.5" y2="296.7"/><line x1="236.5" y1="271" x2="236.5" y2="285.9"/><line x1="242.5" y1="271" x2="242.5" y2="288.6"/><line x1="248.5" y1="265.9" x2="248.5" y2="282.2"/><line x1="254.5" y1="258.5" x2="254.5" y2="288.3"/><line x1="261.5" y1="271.7" x2="261.5" y2="316.3"/><line x1="267.5" y1="278.3" x2="267.5" y2="304.3"/><line x1="273.5" y1="275" x2="273.5" y2="289"/><line x1="279.5" y1="257.6" x2="279.5" y2="285.9"/><line x1="285.5" y1="257.6" x2="285.5" y2="318.5"/><line x1="291.5" y1="271.7" x2="291.5" y2="308.7"/><line x1="297.5" y1="270.7" x2="297.5" y2="304.3"/><line x1="304.5" y1="293.5" x2="304.5" y2="312.6"/><line x1="310.5" y1="307.6" x2="310.5" y2="352.6"/><line x1="316.5" y1="338" x2="316.5" y2="362"/><line x1="322.5" y1="352.2" x2="322.5" y2="378.3"/><line x1="328.5" y1="359.8" x2="328.5" y2="387.4"/><line x1="334.5" y1="362" x2="334.5" y2="385.9"/><line x1="340.5" y1="362" x2="340.5" y2="383.7"/><line x1="346.5" y1="354.3" x2="346.5" y2="377.8"/><line x1="353.5" y1="370" x2="353.5" y2="393.5"/><line x1="359.5" y1="389.1" x2="359.5" y2="419.6"/><line x1="365.5" y1="384.3" x2="365.5" y2="403.3"/><line x1="371.5" y1="383" x2="371.5" y2="413.5"/><line x1="377.5" y1="360.4" x2="377.5" y2="397.8"/><line x1="383.5" y1="361.3" x2="383.5" y2="373.9"/><line x1="389.5" y1="343.9" x2="389.5" y2="365.2"/><line x1="395.5" y1="348.8" x2="395.5" y2="381.4"/><line x1="402.5" y1="358.8" x2="402.5" y2="376.7"/><line x1="408.5" y1="352.4" x2="408.5" y2="378.5"/><line x1="414.5" y1="338.3" x2="414.5" y2="360.4"/><line x1="420.5" y1="326.3" x2="420.5" y2="351.3"/><line x1="426.5" y1="329.1" x2="426.5" y2="351.7"/><line x1="432.5" y1="336.1" x2="432.5" y2="350.2"/><line x1="438.5" y1="335.7" x2="438.5" y2="352.4"/><line x1="444.5" y1="332.8" x2="444.5" y2="368.3"/><line x1="451.5" y1="364.3" x2="451.5" y2="385.7"/><line x1="457.5" y1="359.6" x2="457.5" y2="385"/><line x1="463.5" y1="350.2" x2="463.5" y2="367.6"/><line x1="469.5" y1="351.3" x2="469.5" y2="397.4"/><line x1="475.5" y1="368.3" x2="475.5" y2="417.6"/><line x1="481.5" y1="383.5" x2="481.5" y2="423.5"/><line x1="487.5" y1="391.5" x2="487.5" y2="413.3"/><line x1="494.5" y1="395.2" x2="494.5" y2="411.1"/><line x1="500.5" y1="403.9" x2="500.5" y2="415.4"/><line x1="506.5" y1="390" x2="506.5" y2="414.3"/><line x1="512.5" y1="385" x2="512.5" y2="413.9"/><line x1="518.5" y1="396.5" x2="518.5" y2="414.3"/><line x1="524.5" y1="407" x2="524.5" y2="458.5"/><line x1="530.5" y1="436.4" x2="530.5" y2="455.5"/><line x1="536.5" y1="402.5" x2="536.5" y2="443.8"/><line x1="543.5" y1="394.3" x2="543.5" y2="424.2"/><line x1="549.5" y1="419" x2="549.5" y2="468.5"/><line x1="555.5" y1="455.9" x2="555.5" y2="492.8"/><line x1="561.5" y1="468.3" x2="561.5" y2="505.9"/><line x1="567.5" y1="501.5" x2="567.5" y2="532"/><line x1="573.5" y1="489.6" x2="573.5" y2="521"/><line x1="579.5" y1="473.3" x2="579.5" y2="516"/><line x1="585.5" y1="486.3" x2="585.5" y2="504.8"/><line x1="592.5" y1="491.3" x2="592.5" y2="515.2"/><line x1="598.5" y1="462.4" x2="598.5" y2="514.6"/><line x1="604.5" y1="457.4" x2="604.5" y2="494.3"/><line x1="610.5" y1="452.2" x2="610.5" y2="472.6"/><line x1="616.5" y1="453.7" x2="616.5" y2="476.5"/><line x1="622.5" y1="416.1" x2="622.5" y2="461.3"/><line x1="628.5" y1="410.2" x2="628.5" y2="437.4"/><line x1="634.5" y1="416.1" x2="634.5" y2="440.7"/><line x1="641.5" y1="427.6" x2="641.5" y2="447.2"/><line x1="647.5" y1="423.3" x2="647.5" y2="443.5"/><line x1="653.5" y1="425.4" x2="653.5" y2="449.3"/><line x1="659.5" y1="425.4" x2="659.5" y2="488.5"/><line x1="665.5" y1="418" x2="665.5" y2="451"/><line x1="671.5" y1="402.4" x2="671.5" y2="427"/><line x1="677.5" y1="414" x2="677.5" y2="453"/><line x1="684.5" y1="419.3" x2="684.5" y2="449.8"/><line x1="690.5" y1="439.6" x2="690.5" y2="456.3"/><line x1="696.5" y1="430.9" x2="696.5" y2="463.9"/><line x1="702.5" y1="421.5" x2="702.5" y2="452"/><line x1="708.5" y1="397.2" x2="708.5" y2="434.6"/><line x1="714.5" y1="379.1" x2="714.5" y2="401.3"/><line x1="720.5" y1="377" x2="720.5" y2="393.3"/><line x1="726.5" y1="381.3" x2="726.5" y2="392.6"/><line x1="733.5" y1="376.5" x2="733.5" y2="397.6"/><line x1="739.5" y1="366.5" x2="739.5" y2="393.9"/><line x1="745.5" y1="365.7" x2="745.5" y2="379.6"/><line x1="751.5" y1="361.7" x2="751.5" y2="383.5"/><line x1="757.5" y1="366.5" x2="757.5" y2="385.7"/><line x1="763.5" y1="354.1" x2="763.5" y2="376.5"/><line x1="769.5" y1="361.7" x2="769.5" y2="388.9"/><line x1="775.5" y1="381.3" x2="775.5" y2="398.7"/><line x1="782.5" y1="351.5" x2="782.5" y2="394.8"/><line x1="788.5" y1="329.5" x2="788.5" y2="363.1"/><line x1="794.5" y1="299.9" x2="794.5" y2="338.4"/><line x1="800.5" y1="293.4" x2="800.5" y2="309.8"/><line x1="806.5" y1="287.5" x2="806.5" y2="307.9"/><line x1="812.5" y1="287.5" x2="812.5" y2="310.2"/><line x1="818.5" y1="281.3" x2="818.5" y2="308"/><line x1="824.5" y1="273.9" x2="824.5" y2="295"/><line x1="831.5" y1="278.7" x2="831.5" y2="293.5"/><line x1="837.5" y1="283.5" x2="837.5" y2="296.5"/><line x1="843.5" y1="271.7" x2="843.5" y2="297.8"/><line x1="849.5" y1="268.3" x2="849.5" y2="284.1"/><line x1="855.5" y1="268.9" x2="855.5" y2="283.5"/><line x1="861.5" y1="266.7" x2="861.5" y2="289.1"/><line x1="867.5" y1="280.4" x2="867.5" y2="303.7"/><line x1="874.5" y1="278.3" x2="874.5" y2="303.7"/><line x1="880.5" y1="282" x2="880.5" y2="298.7"/><line x1="886.5" y1="286.3" x2="886.5" y2="307.4"/><line x1="892.5" y1="273.3" x2="892.5" y2="309.1"/><line x1="898.5" y1="280.4" x2="898.5" y2="292.8"/><line x1="904.5" y1="279.2" x2="904.5" y2="303.8"/><line x1="910.5" y1="288.1" x2="910.5" y2="305.3"/><line x1="916.5" y1="264.4" x2="916.5" y2="299.5"/><line x1="923.5" y1="210.5" x2="923.5" y2="279"/><line x1="929.5" y1="238.3" x2="929.5" y2="300.8"/><line x1="935.5" y1="290.3" x2="935.5" y2="355.2"/><line x1="941.5" y1="324.4" x2="941.5" y2="355.2"/><line x1="947.5" y1="311.1" x2="947.5" y2="345.6"/><line x1="953.5" y1="272.1" x2="953.5" y2="328.5"/><line x1="959.5" y1="229" x2="959.5" y2="281.3"/><line x1="965.5" y1="212.6" x2="965.5" y2="252.6"/><line x1="972.5" y1="198.6" x2="972.5" y2="222.4"/><line x1="978.5" y1="188" x2="978.5" y2="208.5"/><line x1="984.5" y1="191.8" x2="984.5" y2="211.3"/><line x1="990.5" y1="184" x2="990.5" y2="198.4"/><line x1="996.5" y1="148.3" x2="996.5" y2="194.3"/><line x1="1002.5" y1="148.3" x2="1002.5" y2="175.8"/><line x1="1008.5" y1="172.3" x2="1008.5" y2="202.5"/><line x1="1014.5" y1="171.3" x2="1014.5" y2="199"/><line x1="1021.5" y1="172.3" x2="1021.5" y2="190.2"/><line x1="1027.5" y1="142.2" x2="1027.5" y2="188.7"/><line x1="1033.5" y1="141.5" x2="1033.5" y2="159.4"/><line x1="1039.5" y1="150.4" x2="1039.5" y2="180.5"/><line x1="1045.5" y1="173.8" x2="1045.5" y2="194.3"/><line x1="1051.5" y1="178.5" x2="1051.5" y2="194.3"/><line x1="1057.5" y1="173.8" x2="1057.5" y2="195.9"/><line x1="1064.5" y1="154.5" x2="1064.5" y2="189.8"/><line x1="1070.5" y1="161.5" x2="1070.5" y2="189.8"/><line x1="1076.5" y1="167.2" x2="1076.5" y2="201.6"/><line x1="1082.5" y1="177" x2="1082.5" y2="206"/><line x1="1088.5" y1="184.4" x2="1088.5" y2="230"/><line x1="1094.5" y1="179.5" x2="1094.5" y2="222.6"/><line x1="1100.5" y1="166.2" x2="1100.5" y2="198"/><line x1="1106.5" y1="178.1" x2="1106.5" y2="198.6"/><line x1="1113.5" y1="178.9" x2="1113.5" y2="197.4"/><line x1="1119.5" y1="154.3" x2="1119.5" y2="193.9"/><line x1="1125.5" y1="154.3" x2="1125.5" y2="173.4"/><line x1="1131.5" y1="135" x2="1131.5" y2="160.4"/><line x1="1137.5" y1="143.2" x2="1137.5" y2="157"/><line x1="1143.5" y1="112.4" x2="1143.5" y2="152.2"/><line x1="1149.5" y1="98" x2="1149.5" y2="120.6"/><line x1="1155.5" y1="100.1" x2="1155.5" y2="125.6"/><line x1="1162.5" y1="119" x2="1162.5" y2="139.5"/><line x1="1168.5" y1="123.5" x2="1168.5" y2="149.4"/><line x1="1174.5" y1="122.1" x2="1174.5" y2="141.6"/></g>
<g stroke="#000" stroke-width="1"><rect x="7.5" y="229" width="4" height="7" fill="#22ab94"/><rect x="13.5" y="219.5" width="4" height="10.1" fill="#22ab94"/><rect x="20.5" y="219.5" width="4" height="16.9" fill="#f23645"/><rect x="26.5" y="238.4" width="4" height="11.2" fill="#f23645"/><rect x="32.5" y="248.2" width="4" height="1.4" fill="#22ab94"/><rect x="38.5" y="248.2" width="4" height="10.1" fill="#f23645"/><rect x="44.5" y="235.5" width="4" height="22.8" fill="#22ab94"/><rect x="50.5" y="235.5" width="4" height="1" fill="#f23645"/><rect x="56.5" y="208.5" width="4" height="27.9" fill="#22ab94"/><rect x="62.5" y="208.5" width="4" height="15.5" fill="#f23645"/><rect x="69.5" y="209.3" width="4" height="15.2" fill="#22ab94"/><rect x="75.5" y="189.4" width="4" height="19.9" fill="#22ab94"/><rect x="81.5" y="179.4" width="4" height="10" fill="#22ab94"/><rect x="87.5" y="170.4" width="4" height="9.3" fill="#22ab94"/><rect x="93.5" y="151.3" width="4" height="19.1" fill="#22ab94"/><rect x="99.5" y="151.3" width="4" height="25.9" fill="#f23645"/><rect x="105.5" y="150.1" width="4" height="27.1" fill="#22ab94"/><rect x="112.5" y="150.5" width="4" height="14" fill="#f23645"/><rect x="118.5" y="161" width="4" height="1.5" fill="#22ab94"/><rect x="124.5" y="162.3" width="4" height="26.1" fill="#f23645"/><rect x="130.5" y="188.4" width="4" height="4.7" fill="#f23645"/><rect x="136.5" y="193.1" width="4" height="42" fill="#f23645"/><rect x="142.5" y="235.1" width="4" height="3.3" fill="#f23645"/><rect x="148.5" y="237.5" width="4" height="10" fill="#f23645"/><rect x="154.5" y="241.5" width="4" height="5.4" fill="#22ab94"/><rect x="161.5" y="241.5" width="4" height="8.7" fill="#f23645"/><rect x="167.5" y="250.5" width="4" height="3.7" fill="#f23645"/><rect x="173.5" y="253.9" width="4" height="1" fill="#22ab94"/><rect x="179.5" y="254.4" width="4" height="1" fill="#22ab94"/><rect x="185.5" y="250.5" width="4" height="3.7" fill="#22ab94"/><rect x="191.5" y="250.2" width="4" height="24.4" fill="#f23645"/><rect x="197.5" y="268.7" width="4" height="5.9" fill="#22ab94"/><rect x="203.5" y="257.4" width="4" height="11.3" fill="#22ab94"/><rect x="210.5" y="259.2" width="4" height="17.2" fill="#f23645"/><rect x="216.5" y="275.5" width="4" height="1" fill="#f23645"/><rect x="222.5" y="276.4" width="4" height="18.2" fill="#f23645"/><rect x="228.5" y="278.6" width="4" height="16" fill="#22ab94"/><rect x="234.5" y="278.3" width="4" height="6.7" fill="#f23645"/><rect x="240.5" y="278.2" width="4" height="1" fill="#22ab94"/><rect x="246.5" y="267.4" width="4" height="11.6" fill="#22ab94"/><rect x="252.5" y="267.4" width="4" height="14.8" fill="#f23645"/><rect x="259.5" y="282.2" width="4" height="17.8" fill="#f23645"/><rect x="265.5" y="296.3" width="4" height="4.1" fill="#22ab94"/><rect x="271.5" y="281.5" width="4" height="2.2" fill="#f23645"/><rect x="277.5" y="258.7" width="4" height="23.9" fill="#22ab94"/><rect x="283.5" y="259.1" width="4" height="47.4" fill="#f23645"/><rect x="289.5" y="275" width="4" height="32" fill="#22ab94"/><rect x="295.5" y="275.7" width="4" height="20.4" fill="#f23645"/><rect x="302.5" y="299.6" width="4" height="10.8" fill="#f23645"/><rect x="308.5" y="310.4" width="4" height="34.2" fill="#f23645"/><rect x="314.5" y="344.6" width="4" height="11.9" fill="#f23645"/><rect x="320.5" y="356.5" width="4" height="12" fill="#f23645"/><rect x="326.5" y="368.5" width="4" height="13.7" fill="#f23645"/><rect x="332.5" y="365.2" width="4" height="17" fill="#22ab94"/><rect x="338.5" y="363.6" width="4" height="1" fill="#22ab94"/><rect x="344.5" y="364.1" width="4" height="8.7" fill="#f23645"/><rect x="351.5" y="372.2" width="4" height="20.2" fill="#f23645"/><rect x="357.5" y="391.3" width="4" height="19.6" fill="#f23645"/><rect x="363.5" y="390.2" width="4" height="7.6" fill="#f23645"/><rect x="369.5" y="397.3" width="4" height="1" fill="#22ab94"/><rect x="375.5" y="364.1" width="4" height="33.7" fill="#22ab94"/><rect x="381.5" y="363" width="4" height="1" fill="#22ab94"/><rect x="387.5" y="350" width="4" height="13.5" fill="#22ab94"/><rect x="393.5" y="352" width="4" height="21.5" fill="#f23645"/><rect x="400.5" y="366.4" width="4" height="7.1" fill="#22ab94"/><rect x="406.5" y="358.9" width="4" height="7.3" fill="#22ab94"/><rect x="412.5" y="341.5" width="4" height="17.4" fill="#22ab94"/><rect x="418.5" y="341.5" width="4" height="7.2" fill="#f23645"/><rect x="424.5" y="344.3" width="4" height="4.8" fill="#22ab94"/><rect x="430.5" y="338.3" width="4" height="6" fill="#22ab94"/><rect x="436.5" y="338.3" width="4" height="6" fill="#f23645"/><rect x="442.5" y="344.3" width="4" height="22.7" fill="#f23645"/><rect x="449.5" y="366.1" width="4" height="18.9" fill="#f23645"/><rect x="455.5" y="364.3" width="4" height="20" fill="#22ab94"/><rect x="461.5" y="356.1" width="4" height="8.2" fill="#22ab94"/><rect x="467.5" y="356.1" width="4" height="39.8" fill="#f23645"/><rect x="473.5" y="395.2" width="4" height="21.3" fill="#f23645"/><rect x="479.5" y="398" width="4" height="18.5" fill="#22ab94"/><rect x="485.5" y="399.1" width="4" height="8.3" fill="#f23645"/><rect x="492.5" y="407" width="4" height="1" fill="#f23645"/><rect x="498.5" y="408.3" width="4" height="3" fill="#f23645"/><rect x="504.5" y="396.5" width="4" height="14.8" fill="#22ab94"/><rect x="510.5" y="395.9" width="4" height="6.5" fill="#f23645"/><rect x="516.5" y="402.4" width="4" height="10.9" fill="#f23645"/><rect x="522.5" y="413.4" width="4" height="39.8" fill="#f23645"/><rect x="528.5" y="440.2" width="4" height="13" fill="#22ab94"/><rect x="534.5" y="413.4" width="4" height="29.8" fill="#22ab94"/><rect x="541.5" y="413.4" width="4" height="9.8" fill="#f23645"/><rect x="547.5" y="423.4" width="4" height="34.2" fill="#f23645"/><rect x="553.5" y="457.4" width="4" height="16.9" fill="#f23645"/><rect x="559.5" y="474.3" width="4" height="30.9" fill="#f23645"/><rect x="565.5" y="502.2" width="4" height="3" fill="#f23645"/><rect x="571.5" y="501.5" width="4" height="3.7" fill="#22ab94"/><rect x="577.5" y="494.3" width="4" height="7.2" fill="#22ab94"/><rect x="583.5" y="494" width="4" height="1" fill="#22ab94"/><rect x="590.5" y="494.3" width="4" height="20.3" fill="#f23645"/><rect x="596.5" y="470.4" width="4" height="43.1" fill="#22ab94"/><rect x="602.5" y="462.4" width="4" height="8" fill="#22ab94"/><rect x="608.5" y="462.4" width="4" height="9.8" fill="#f23645"/><rect x="614.5" y="460.2" width="4" height="12" fill="#22ab94"/><rect x="620.5" y="422.2" width="4" height="38" fill="#22ab94"/><rect x="626.5" y="418.3" width="4" height="8.7" fill="#22ab94"/><rect x="632.5" y="418.3" width="4" height="15.8" fill="#f23645"/><rect x="639.5" y="431.5" width="4" height="2.6" fill="#22ab94"/><rect x="645.5" y="431.5" width="4" height="10.2" fill="#f23645"/><rect x="651.5" y="441.3" width="4" height="7.4" fill="#f23645"/><rect x="657.5" y="431.3" width="4" height="47.8" fill="#22ab94"/><rect x="663.5" y="423.5" width="4" height="7.8" fill="#22ab94"/><rect x="669.5" y="415.1" width="4" height="8.1" fill="#22ab94"/><rect x="675.5" y="415.3" width="4" height="20.9" fill="#f23645"/><rect x="682.5" y="436.1" width="4" height="12.6" fill="#f23645"/><rect x="688.5" y="455.5" width="4" height="1" fill="#f23645"/><rect x="694.5" y="432.4" width="4" height="23.9" fill="#22ab94"/><rect x="700.5" y="432" width="4" height="1" fill="#f23645"/><rect x="706.5" y="397.2" width="4" height="36.3" fill="#22ab94"/><rect x="712.5" y="392.2" width="4" height="5" fill="#22ab94"/><rect x="718.5" y="381.3" width="4" height="10.4" fill="#22ab94"/><rect x="724.5" y="381.3" width="4" height="2.6" fill="#f23645"/><rect x="731.5" y="384.6" width="4" height="7.1" fill="#f23645"/><rect x="737.5" y="367.2" width="4" height="24.5" fill="#22ab94"/><rect x="743.5" y="367.2" width="4" height="11.5" fill="#f23645"/><rect x="749.5" y="379.8" width="4" height="1" fill="#22ab94"/><rect x="755.5" y="369.3" width="4" height="10.9" fill="#22ab94"/><rect x="761.5" y="366.1" width="4" height="3.2" fill="#22ab94"/><rect x="767.5" y="366.1" width="4" height="22.2" fill="#f23645"/><rect x="773.5" y="388.3" width="4" height="6" fill="#f23645"/><rect x="780.5" y="358.6" width="4" height="35.5" fill="#22ab94"/><rect x="786.5" y="331.3" width="4" height="27.3" fill="#22ab94"/><rect x="792.5" y="302.1" width="4" height="29.2" fill="#22ab94"/><rect x="798.5" y="302.6" width="4" height="4.8" fill="#f23645"/><rect x="804.5" y="297.4" width="4" height="10" fill="#22ab94"/><rect x="810.5" y="301.4" width="4" height="6" fill="#f23645"/><rect x="816.5" y="288.5" width="4" height="18.9" fill="#22ab94"/><rect x="822.5" y="283.5" width="4" height="4.3" fill="#22ab94"/><rect x="829.5" y="283.5" width="4" height="3.9" fill="#f23645"/><rect x="835.5" y="287.4" width="4" height="2.6" fill="#f23645"/><rect x="841.5" y="274.3" width="4" height="22.9" fill="#22ab94"/><rect x="847.5" y="271.5" width="4" height="2.8" fill="#22ab94"/><rect x="853.5" y="270" width="4" height="1" fill="#22ab94"/><rect x="859.5" y="270.4" width="4" height="10.9" fill="#f23645"/><rect x="865.5" y="281.3" width="4" height="15.9" fill="#f23645"/><rect x="872.5" y="293.5" width="4" height="9.5" fill="#22ab94"/><rect x="878.5" y="287.4" width="4" height="6.1" fill="#22ab94"/><rect x="884.5" y="287.4" width="4" height="16.9" fill="#f23645"/><rect x="890.5" y="286.3" width="4" height="18" fill="#22ab94"/><rect x="896.5" y="286.3" width="4" height="4.4" fill="#f23645"/><rect x="902.5" y="292.4" width="4" height="2.6" fill="#f23645"/><rect x="908.5" y="293.6" width="4" height="1.5" fill="#22ab94"/><rect x="914.5" y="272.4" width="4" height="20.8" fill="#22ab94"/><rect x="921.5" y="242.3" width="4" height="30.1" fill="#22ab94"/><rect x="927.5" y="242.3" width="4" height="58.2" fill="#f23645"/><rect x="933.5" y="318.3" width="4" height="36.2" fill="#f23645"/><rect x="939.5" y="340.2" width="4" height="14" fill="#22ab94"/><rect x="945.5" y="324.4" width="4" height="15.8" fill="#22ab94"/><rect x="951.5" y="281.3" width="4" height="44.1" fill="#22ab94"/><rect x="957.5" y="247" width="4" height="34.3" fill="#22ab94"/><rect x="963.5" y="216.3" width="4" height="29.5" fill="#22ab94"/><rect x="970.5" y="205.4" width="4" height="10.9" fill="#22ab94"/><rect x="976.5" y="201.3" width="4" height="4.1" fill="#22ab94"/><rect x="982.5" y="194.3" width="4" height="7.2" fill="#22ab94"/><rect x="988.5" y="186.1" width="4" height="8.2" fill="#22ab94"/><rect x="994.5" y="161" width="4" height="33.3" fill="#22ab94"/><rect x="1000.5" y="161" width="4" height="14" fill="#f23645"/><rect x="1006.5" y="175" width="4" height="23.4" fill="#f23645"/><rect x="1012.5" y="172.3" width="4" height="26.1" fill="#22ab94"/><rect x="1019.5" y="172.3" width="4" height="9.7" fill="#f23645"/><rect x="1025.5" y="144.6" width="4" height="38.6" fill="#22ab94"/><rect x="1031.5" y="145.7" width="4" height="8.8" fill="#f23645"/><rect x="1037.5" y="155.3" width="4" height="20.5" fill="#f23645"/><rect x="1043.5" y="176.4" width="4" height="17.1" fill="#f23645"/><rect x="1049.5" y="192.5" width="4" height="1" fill="#f23645"/><rect x="1055.5" y="186.1" width="4" height="9.4" fill="#22ab94"/><rect x="1062.5" y="165.6" width="4" height="20.5" fill="#22ab94"/><rect x="1068.5" y="165.6" width="4" height="21.6" fill="#f23645"/><rect x="1074.5" y="187.2" width="4" height="13.4" fill="#f23645"/><rect x="1080.5" y="182.6" width="4" height="17.4" fill="#22ab94"/><rect x="1086.5" y="197.5" width="4" height="22.8" fill="#f23645"/><rect x="1092.5" y="183.6" width="4" height="37" fill="#22ab94"/><rect x="1098.5" y="183.6" width="4" height="13.8" fill="#f23645"/><rect x="1104.5" y="182.6" width="4" height="14.8" fill="#22ab94"/><rect x="1111.5" y="182.6" width="4" height="9.9" fill="#f23645"/><rect x="1117.5" y="166.2" width="4" height="26.3" fill="#22ab94"/><rect x="1123.5" y="157" width="4" height="9.2" fill="#22ab94"/><rect x="1129.5" y="149.8" width="4" height="7.2" fill="#22ab94"/><rect x="1135.5" y="149.4" width="4" height="1" fill="#f23645"/><rect x="1141.5" y="114.5" width="4" height="35.3" fill="#22ab94"/><rect x="1147.5" y="108.3" width="4" height="11.7" fill="#22ab94"/><rect x="1153.5" y="108.3" width="4" height="16.8" fill="#f23645"/><rect x="1160.5" y="125.1" width="4" height="11.3" fill="#f23645"/><rect x="1166.5" y="129.7" width="4" height="6.7" fill="#22ab94"/><rect x="1172.5" y="129.7" width="4" height="11.5" fill="#f23645"/></g>
<polyline points="1173.5,141 1186,159.9 1198.6,146.8 1217.4,159.9" fill="none" stroke="#2962ff" stroke-width="2" stroke-linejoin="miter"/>
<polyline points="1203.4,162.8 1217.4,159.9 1215.5,145.9" fill="none" stroke="#2962ff" stroke-width="2"/>
</g>
<g clip-path="url(#cr)">
<polyline points="11,636 359.1,752.3" fill="none" stroke="#c62828" stroke-width="1.2" stroke-dasharray="1.5 2"/>
<polyline points="359.1,752.3 855.5,634.3" fill="none" stroke="#c0608a" stroke-width="1.2" stroke-dasharray="1.5 2.5"/>
<polyline points="10.4,640.7 223.6,737.9" fill="none" stroke="#c060f0" stroke-width="1.2" stroke-dasharray="1.5 2.5"/>
<polyline points="432.2,689.6 561,750.7 855.5,634.3" fill="none" stroke="#c060f0" stroke-width="1.2" stroke-dasharray="1.5 2.5"/>
<polyline points="9.84,662.8 40.48,691.06 95.64,635.96 193.7,731.26 205.96,713.51 224.35,737.84 279.51,691.08 359.18,753.12 432.73,690.23 524.66,743.84 536.92,711.02 561.44,751.35 671.76,677.15 690.14,707.46 739.17,654.55 775.95,685.02 855.62,634.11 935.3,720.13 996.59,635.44 1088.52,699.39 1149.81,649.5" fill="none" stroke="#6a979f" stroke-width="2.2" stroke-linejoin="miter"/>
<polyline points="9.84,662.8 40.48,691.06 58.87,658.6 65,672.44 95.64,635.96 101.77,660.16 107.9,647.71 193.7,731.26 205.96,713.51 224.35,737.84 248.86,707.22 261.12,730.2 279.51,691.08 285.64,722.64 291.77,699.89 328.54,748.71 340.8,733.61 359.18,753.12 389.83,703.01 395.96,716.96 432.73,690.23 451.12,723.31 463.37,699.4 475.63,733.47 506.28,713.05 524.66,743.84 536.92,711.02 567.57,751.35 585.95,741.25 592.08,750.32 628.85,679.2 653.37,700.09 671.76,677.15 690.14,707.46 720.79,658.87 733.05,668.67 739.17,654.55 751.43,666.3 763.69,657.86 775.95,685.02 794.34,636.28 812.72,646.78 855.62,634.11 886.27,677.64 892.4,664.53 904.66,673.85 923.04,639.47 935.3,720.13 996.59,635.44 1008.85,662.87 1027.23,645.78 1045.62,677.52 1064.01,664.09 1076.26,687.05 1082.39,677.54 1088.52,699.39 1094.65,681.04 1100.78,688.52 1149.81,649.5 1174.33,675.66" fill="none" stroke="#c080c8" stroke-width="1" stroke-dasharray="1 2"/>
<polyline points="9.84,662.8 15.96,657.57 22.09,672.76 28.22,683.6 34.35,682.63 40.48,691.06 46.61,674.93 52.74,675.81 58.87,658.6 65,672.44 71.12,663.8 77.25,653.34 83.38,648.5 89.51,644.27 95.64,635.96 101.77,660.16 107.9,647.71 114.03,659.71 120.16,658.01 126.28,679.48 132.41,682.87 138.54,709.07 144.67,710.86 150.8,715.89 156.93,711.32 163.06,716.47 169.19,718.86 175.32,718.58 181.45,718.92 187.57,714.94 193.7,731.26 199.83,725.03 205.96,713.51 212.09,726.47 218.22,726.54 224.35,737.84 230.48,720.94 236.61,725.19 242.73,718.08 248.86,707.22 254.99,718.42 261.12,730.2 267.25,726.24 273.38,713.15 279.51,691.08 285.64,722.64 291.77,699.89 297.89,711.72 304.02,719.08 310.15,734.37 316.28,739.07 322.41,743.66 328.54,748.71 334.67,734.9 340.8,733.61 346.93,737.78 353.05,746.09 359.18,753.12 365.31,741.4 371.44,740.95 377.57,713.61 383.7,712.78 389.83,703.01 395.96,716.96 402.09,711.49 408.21,705.73 414.34,693.06 420.47,698.12 426.6,694.81 432.73,690.23 438.86,695.12 444.99,711.96 451.12,723.31 457.25,705.78 463.37,699.4 469.5,723.54 475.63,733.47 481.76,718.99 487.89,723.8 494.02,724.11 500.15,725.94 506.28,713.05 512.41,716.79 518.53,723.56 524.66,743.84 530.79,732.22 536.92,711.02 543.05,716.48 549.18,733.23 555.31,740.15 561.44,751.35 567.57,751.35 573.69,748.06 579.82,741.53 585.95,741.25 592.08,750.32 598.21,713.63 604.34,708.06 610.47,713.58 616.6,704.86 622.73,681.34 628.85,679.2 634.98,689.88 641.11,688.26 647.24,695.31 653.37,700.09 659.5,687.84 665.63,682.66 671.76,677.15 677.89,693.57 684.01,702.32 690.14,707.46 696.27,689.62 702.4,690.07 708.53,667.52 714.66,664.78 720.79,658.87 726.92,661.29 733.05,668.67 739.17,654.55 745.3,665.27 751.43,666.3 757.56,659.82 763.69,657.86 769.82,679.68 775.95,685.02 782.08,661.64 788.21,648.05 794.34,636.28 800.46,641.16 806.59,637.17 812.72,646.78 818.85,638.71 824.98,636.67 831.11,640.74 837.24,643.55 843.37,636.11 849.5,634.83 855.62,634.11 861.75,648.14 867.88,665.94 874.01,663.38 880.14,659.13 886.27,677.64 892.4,664.53 898.53,669.21 904.66,673.85 910.78,672.7 916.91,656.73 923.04,639.47 929.17,690.69 935.3,720.13 941.43,710.96 947.56,701.32 953.69,678.98 959.82,664.76 965.94,653.93 972.07,650.36 978.2,648.98 984.33,646.57 990.46,643.69 996.59,635.44 1002.72,646.22 1008.85,662.87 1014.98,652.68 1021.1,659.38 1027.23,645.78 1033.36,652.64 1039.49,666.71 1045.62,677.52 1051.75,677.43 1057.88,673.84 1064.01,664.09 1070.14,678.67 1076.26,687.05 1082.39,677.54 1088.52,699.39 1094.65,681.04 1100.78,688.52 1106.91,681.42 1113.04,687.06 1119.17,674.51 1125.3,670.4 1131.42,667.15 1137.55,667.44 1143.68,651.92 1149.81,649.5 1155.94,662.26 1162.07,670.43 1168.2,667.07 1174.33,675.66" fill="none" stroke="#2962ff" stroke-width="1" stroke-linejoin="round"/>
</g>
<rect x="10" y="27" width="1508" height="766" fill="none" stroke="#f0f0f0" stroke-width="2"/>
<rect x="1387" y="629.7" width="53" height="19.3" fill="#c4a3c0"/><rect x="1387" y="650" width="53" height="25.8" fill="#eef5f5"/><rect x="1387" y="677.1" width="53" height="19" fill="#d88af0"/><rect x="1387" y="697.4" width="53" height="18.4" fill="#d58ab0"/><rect x="1387" y="717.2" width="53" height="18.4" fill="#e0826e"/><rect x="1387" y="736.9" width="53" height="18.7" fill="#84a8a4"/>
<path d="M1451,89.24 h53.7 a2,2 0 0 1 2,2 v12.4 a2,2 0 0 1 -2,2 h-53.7 z" fill="#f23645"/><path d="M1451,104.99 h53.7 a2,2 0 0 1 2,2 v12.4 a2,2 0 0 1 -2,2 h-53.7 z" fill="#f23645"/><path d="M1451,132.2 h53.7 a2,2 0 0 1 2,2 v12.4 a2,2 0 0 1 -2,2 h-53.7 z" fill="#f23645"/><path d="M1451,198.46 h53.7 a2,2 0 0 1 2,2 v12.4 a2,2 0 0 1 -2,2 h-53.7 z" fill="#4caf50"/><path d="M1451,221.5 h53.7 a2,2 0 0 1 2,2 v12.4 a2,2 0 0 1 -2,2 h-53.7 z" fill="#4caf50"/><path d="M1451,316.55 h53.7 a2,2 0 0 1 2,2 v12.4 a2,2 0 0 1 -2,2 h-53.7 z" fill="#4caf50"/><path d="M1451,347.43 h53.7 a2,2 0 0 1 2,2 v12.4 a2,2 0 0 1 -2,2 h-53.7 z" fill="#4caf50"/><path d="M1451,406.9 h53.7 a2,2 0 0 1 2,2 v12.4 a2,2 0 0 1 -2,2 h-53.7 z" fill="#4caf50"/><path d="M1451,424.95 h53.7 a2,2 0 0 1 2,2 v12.4 a2,2 0 0 1 -2,2 h-53.7 z" fill="#4caf50"/><path d="M1451,453.06 h53.7 a2,2 0 0 1 2,2 v12.4 a2,2 0 0 1 -2,2 h-53.7 z" fill="#4caf50"/><path d="M1451,481.21 h53.7 a2,2 0 0 1 2,2 v12.4 a2,2 0 0 1 -2,2 h-53.7 z" fill="#4caf50"/>
<rect x="1454.3" y="31.1" width="59.5" height="25.5" rx="4" fill="#fff" stroke="#ebebeb" stroke-width="1"/>
<g fill="#131722"><path d="M9.8,805.2 H18 V814.6 H13.7 V808.7 H9.8 Z"/><circle cx="21" cy="807.1" r="1.75"/><path d="M23.5,805.2 H29.7 L25.8,814.6 H20.8 Z"/></g>
<text x="9.6" y="19" font-size="11.8" fill="#131722" font-weight="normal" text-anchor="start" textLength="388.5" lengthAdjust="spacingAndGlyphs" stroke="#131722" stroke-width="0.25">Ascv33 опубликовал(а) на TradingView.com, Июн 01, 2025 21:03 UTC+3</text>
<text x="17.7" y="46.1" font-size="12" fill="#131722" font-weight="normal" text-anchor="start" textLength="246.2" lengthAdjust="spacingAndGlyphs" stroke="#131722" stroke-width="0.25">Британский фунт / Доллар США · 1Д · FXCM</text>
<text x="270.4" y="46.1" font-size="12" fill="#131722" font-weight="normal" text-anchor="start" textLength="72.1" lengthAdjust="spacingAndGlyphs" stroke="#131722" stroke-width="0.25">ОТКР1,34860</text>
<text x="349" y="46.1" font-size="12" fill="#131722" font-weight="normal" text-anchor="start" textLength="73.5" lengthAdjust="spacingAndGlyphs" stroke="#131722" stroke-width="0.25">МАКС1,35105</text>
<text x="428.8" y="46.1" font-size="12" fill="#131722" font-weight="normal" text-anchor="start" textLength="67.2" lengthAdjust="spacingAndGlyphs" stroke="#131722" stroke-width="0.25">МИН1,34454</text>
<text x="503.5" y="46.1" font-size="12" fill="#131722" font-weight="normal" text-anchor="start" textLength="69.4" lengthAdjust="spacingAndGlyphs" stroke="#131722" stroke-width="0.25">ЗАКР1,34456</text>
<text x="580.5" y="46.1" font-size="12" fill="#131722" font-weight="normal" text-anchor="start" textLength="97.5" lengthAdjust="spacingAndGlyphs" stroke="#131722" stroke-width="0.25">−0,00404 (−0,30%)</text>
<text x="17.7" y="62.8" font-size="12" fill="#131722" font-weight="normal" text-anchor="start" textLength="37.2" lengthAdjust="spacingAndGlyphs" stroke="#131722" stroke-width="0.25">Объём</text>
<text x="61.7" y="62.8" font-size="12" fill="#f7525f" font-weight="normal" text-anchor="start" textLength="45.8" lengthAdjust="spacingAndGlyphs" stroke="#f7525f" stroke-width="0.25">275,85 K</text>
<text x="17.7" y="79.9" font-size="12" fill="#131722" font-weight="normal" text-anchor="start" textLength="411.5" lengthAdjust="spacingAndGlyphs" stroke="#131722" stroke-width="0.25">Strange MA (Hull Moving Average, 30, 50, SMA, 100, SMA, 200, SMA, Neutral)</text>
<text x="437.1" y="79.9" font-size="12" fill="#f7525f" font-weight="normal" text-anchor="start" textLength="42" lengthAdjust="spacingAndGlyphs" stroke="#f7525f" stroke-width="0.25">1,34825</text>
<text x="486.45" y="79.9" font-size="12" fill="#00e676" font-weight="normal" text-anchor="start" textLength="42" lengthAdjust="spacingAndGlyphs" stroke="#00e676" stroke-width="0.25">1,32138</text>
<text x="535.8" y="79.9" font-size="12" fill="#ffeb3b" font-weight="normal" text-anchor="start" textLength="42" lengthAdjust="spacingAndGlyphs" stroke="#ffeb3b" stroke-width="0.25">1,29032</text>
<text x="585.15" y="79.9" font-size="12" fill="#f7525f" font-weight="normal" text-anchor="start" textLength="42" lengthAdjust="spacingAndGlyphs" stroke="#f7525f" stroke-width="0.25">1,28984</text>
<text x="634.5" y="79.9" font-size="12" fill="#00e676" font-weight="normal" text-anchor="start" textLength="42" lengthAdjust="spacingAndGlyphs" stroke="#00e676" stroke-width="0.25">1,32243</text>
<text x="683.85" y="79.9" font-size="12" fill="#00e676" font-weight="normal" text-anchor="start" textLength="42" lengthAdjust="spacingAndGlyphs" stroke="#00e676" stroke-width="0.25">1,32343</text>
<text x="733.2" y="79.9" font-size="12" fill="#00e676" font-weight="normal" text-anchor="start" textLength="42" lengthAdjust="spacingAndGlyphs" stroke="#00e676" stroke-width="0.25">1,32455</text>
<text x="782.55" y="79.9" font-size="12" fill="#00e676" font-weight="normal" text-anchor="start" textLength="42" lengthAdjust="spacingAndGlyphs" stroke="#00e676" stroke-width="0.25">1,32554</text>
<text x="831.9" y="79.9" font-size="12" fill="#00e676" font-weight="normal" text-anchor="start" textLength="42" lengthAdjust="spacingAndGlyphs" stroke="#00e676" stroke-width="0.25">1,32657</text>
<text x="881.25" y="79.9" font-size="12" fill="#00e676" font-weight="normal" text-anchor="start" textLength="42" lengthAdjust="spacingAndGlyphs" stroke="#00e676" stroke-width="0.25">1,32763</text>
<text x="930.6" y="79.9" font-size="12" fill="#00e676" font-weight="normal" text-anchor="start" textLength="42" lengthAdjust="spacingAndGlyphs" stroke="#00e676" stroke-width="0.25">1,32867</text>
<text x="979.95" y="79.9" font-size="12" fill="#00e676" font-weight="normal" text-anchor="start" textLength="42" lengthAdjust="spacingAndGlyphs" stroke="#00e676" stroke-width="0.25">1,32957</text>
<text x="1029.3" y="79.9" font-size="12" fill="#00e676" font-weight="normal" text-anchor="start" textLength="42" lengthAdjust="spacingAndGlyphs" stroke="#00e676" stroke-width="0.25">1,33026</text>
<text x="1078.65" y="79.9" font-size="12" fill="#00e676" font-weight="normal" text-anchor="start" textLength="42" lengthAdjust="spacingAndGlyphs" stroke="#00e676" stroke-width="0.25">1,33136</text>
<text x="1128" y="79.9" font-size="12" fill="#ffeb3b" font-weight="normal" text-anchor="start" textLength="42" lengthAdjust="spacingAndGlyphs" stroke="#ffeb3b" stroke-width="0.25">1,29157</text>
<text x="1177.35" y="79.9" font-size="12" fill="#ffeb3b" font-weight="normal" text-anchor="start" textLength="42" lengthAdjust="spacingAndGlyphs" stroke="#ffeb3b" stroke-width="0.25">1,29280</text>
<text x="1226.7" y="79.9" font-size="12" fill="#ffeb3b" font-weight="normal" text-anchor="start" textLength="42" lengthAdjust="spacingAndGlyphs" stroke="#ffeb3b" stroke-width="0.25">1,29402</text>
<text x="1276.05" y="79.9" font-size="12" fill="#ffeb3b" font-weight="normal" text-anchor="start" textLength="42" lengthAdjust="spacingAndGlyphs" stroke="#ffeb3b" stroke-width="0.25">1,29523</text>
<text x="1325.4" y="79.9" font-size="12" fill="#ffeb3b" font-weight="normal" text-anchor="start" textLength="42" lengthAdjust="spacingAndGlyphs" stroke="#ffeb3b" stroke-width="0.25">1,29651</text>
<text x="1374.75" y="79.9" font-size="12" fill="#ffeb3b" font-weight="normal" text-anchor="start" textLength="42" lengthAdjust="spacingAndGlyphs" stroke="#ffeb3b" stroke-width="0.25">1,29764</text>
<text x="17.4" y="639.5" font-size="12" fill="#131722" font-weight="normal" text-anchor="start" textLength="148.3" lengthAdjust="spacingAndGlyphs" stroke="#131722" stroke-width="0.25">DZ [Trendoscope®] (rsi, 14)</text>
<text x="172.9" y="639.5" font-size="12" fill="#2962ff" font-weight="normal" text-anchor="start" textLength="48.4" lengthAdjust="spacingAndGlyphs" stroke="#2962ff" stroke-width="0.25">56,88301</text>
<text x="1413.5" y="642.95" font-size="10" fill="#9a5a90" text-anchor="middle">Level0</text>
<text x="1413.5" y="667.94" font-size="14" fill="#5b9aa8" text-anchor="middle">Level1</text>
<text x="1413.5" y="690.2" font-size="10" fill="#a040d0" text-anchor="middle">Level2</text>
<text x="1413.5" y="710.2" font-size="10" fill="#b0407a" text-anchor="middle">Level3</text>
<text x="1413.5" y="730" font-size="10" fill="#c0442a" text-anchor="middle">Level4</text>
<text x="1413.5" y="749.85" font-size="10" fill="#2f6b66" text-anchor="middle">Level5</text>
<text x="1416.5" y="79.5" font-size="12" fill="#000" font-weight="bold">…</text>
<text x="1459.5" y="157.9" font-size="12" fill="#131722" font-weight="normal" text-anchor="start" textLength="42" lengthAdjust="spacingAndGlyphs" stroke="#131722" stroke-width="0.25">1,34000</text>
<text x="1459.5" y="274.56" font-size="12" fill="#131722" font-weight="normal" text-anchor="start" textLength="42" lengthAdjust="spacingAndGlyphs" stroke="#131722" stroke-width="0.25">1,30000</text>
<text x="1459.5" y="391.21" font-size="12" fill="#131722" font-weight="normal" text-anchor="start" textLength="42" lengthAdjust="spacingAndGlyphs" stroke="#131722" stroke-width="0.25">1,26000</text>
<text x="1459.5" y="449.54" font-size="12" fill="#131722" font-weight="normal" text-anchor="start" textLength="42" lengthAdjust="spacingAndGlyphs" stroke="#131722" stroke-width="0.25">1,24000</text>
<text x="1459.5" y="507.87" font-size="12" fill="#131722" font-weight="normal" text-anchor="start" textLength="42" lengthAdjust="spacingAndGlyphs" stroke="#131722" stroke-width="0.25">1,22000</text>
<text x="1459.5" y="566.2" font-size="12" fill="#131722" font-weight="normal" text-anchor="start" textLength="42" lengthAdjust="spacingAndGlyphs" stroke="#131722" stroke-width="0.25">1,20000</text>
<text x="1459.5" y="610.7" font-size="12" fill="#131722" font-weight="normal" text-anchor="start" textLength="42" lengthAdjust="spacingAndGlyphs" stroke="#131722" stroke-width="0.25">0,00000</text>
<text x="1459.5" y="670.7" font-size="12" fill="#131722" font-weight="normal" text-anchor="start" textLength="48.2" lengthAdjust="spacingAndGlyphs" stroke="#131722" stroke-width="0.25">60,00000</text>
<text x="1459.5" y="724.7" font-size="12" fill="#131722" font-weight="normal" text-anchor="start" textLength="48.2" lengthAdjust="spacingAndGlyphs" stroke="#131722" stroke-width="0.25">40,00000</text>
<text x="1459.3" y="101.44" font-size="12" font-weight="bold" fill="#fff" textLength="42.5" lengthAdjust="spacingAndGlyphs">1,35929</text>
<text x="1459.3" y="117.19" font-size="12" font-weight="bold" fill="#fff" textLength="42.5" lengthAdjust="spacingAndGlyphs">1,35389</text>
<text x="1459.3" y="144.4" font-size="12" font-weight="bold" fill="#fff" textLength="42.5" lengthAdjust="spacingAndGlyphs">1,34456</text>
<text x="1459.3" y="210.66" font-size="12" font-weight="bold" fill="#fff" textLength="42.5" lengthAdjust="spacingAndGlyphs">1,32184</text>
<text x="1459.3" y="233.7" font-size="12" font-weight="bold" fill="#fff" textLength="42.5" lengthAdjust="spacingAndGlyphs">1,31394</text>
<text x="1459.3" y="328.75" font-size="12" font-weight="bold" fill="#fff" textLength="42.5" lengthAdjust="spacingAndGlyphs">1,28135</text>
<text x="1459.3" y="359.63" font-size="12" font-weight="bold" fill="#fff" textLength="42.5" lengthAdjust="spacingAndGlyphs">1,27076</text>
<text x="1459.3" y="419.1" font-size="12" font-weight="bold" fill="#fff" textLength="42.5" lengthAdjust="spacingAndGlyphs">1,25037</text>
<text x="1459.3" y="437.15" font-size="12" font-weight="bold" fill="#fff" textLength="42.5" lengthAdjust="spacingAndGlyphs">1,24418</text>
<text x="1459.3" y="465.26" font-size="12" font-weight="bold" fill="#fff" textLength="42.5" lengthAdjust="spacingAndGlyphs">1,23454</text>
<text x="1459.3" y="493.41" font-size="12" font-weight="bold" fill="#fff" textLength="42.5" lengthAdjust="spacingAndGlyphs">1,22489</text>
<text x="126.6" y="783" font-size="12" fill="#131722" font-weight="normal" text-anchor="middle" stroke="#131722" stroke-width="0.25">Окт</text>
<text x="267.4" y="783" font-size="12" fill="#131722" font-weight="normal" text-anchor="middle" stroke="#131722" stroke-width="0.25">Ноя</text>
<text x="395.5" y="783" font-size="12" fill="#131722" font-weight="normal" text-anchor="middle" stroke="#131722" stroke-width="0.25">Дек</text>
<text x="524.5" y="783" font-size="12" fill="#131722" font-weight="bold" text-anchor="middle">2025</text>
<text x="659.6" y="783" font-size="12" fill="#131722" font-weight="normal" text-anchor="middle" stroke="#131722" stroke-width="0.25">Фев</text>
<text x="782.3" y="783" font-size="12" fill="#131722" font-weight="normal" text-anchor="middle" stroke="#131722" stroke-width="0.25">Мар</text>
<text x="910.3" y="783" font-size="12" fill="#131722" font-weight="normal" text-anchor="middle" stroke="#131722" stroke-width="0.25">Апр</text>
<text x="1045.4" y="783" font-size="12" fill="#131722" font-weight="normal" text-anchor="middle" stroke="#131722" stroke-width="0.25">Май</text>
<text x="1180.4" y="783" font-size="12" fill="#131722" font-weight="normal" text-anchor="middle" stroke="#131722" stroke-width="0.25">Июн</text>
<text x="1309.6" y="783" font-size="12" fill="#131722" font-weight="normal" text-anchor="middle" stroke="#131722" stroke-width="0.25">Июл</text>
<text x="1463.3" y="49" font-size="12.5" fill="#131722" font-weight="normal" text-anchor="start" stroke="#131722" stroke-width="0.25">USD</text>
<text x="33.8" y="815" font-size="13.5" fill="#131722" font-weight="normal" text-anchor="start" textLength="69.8" lengthAdjust="spacingAndGlyphs" stroke="#131722" stroke-width="0.25">TradingView</text>
</svg>
</body></html>
